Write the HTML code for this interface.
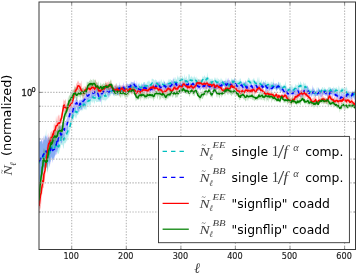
<!DOCTYPE html>
<html><head><meta charset="utf-8"><title>plot</title>
<style>
html,body{margin:0;padding:0;background:#fff;}
body{width:357px;height:274px;overflow:hidden;}
svg{display:block;filter:blur(0.35px);}
text{font-family:"DejaVu Sans","Liberation Sans",sans-serif;fill:#000;}
.t text{font-size:8.15px;fill:#1c1c1c;stroke:#1c1c1c;stroke-width:0.14px;}
text.s{font-size:12.35px;word-spacing:0.9px;}
text.m,text.mr{fill:#1a1a1a;fill-opacity:0.85;}
text.m{font-family:"Liberation Serif","DejaVu Serif",serif;font-style:italic;}
text.mr{font-family:"Liberation Serif","DejaVu Serif",serif;}
</style></head><body>
<svg width="357" height="274" viewBox="0 0 357 274">
<defs><clipPath id="ax"><rect x="39.0" y="2.0" width="316.5" height="247.5"/></clipPath></defs>
<rect width="357" height="274" fill="#fff"/>
<g clip-path="url(#ax)">
<polygon points="39.0,142.8 39.5,136.6 40.1,141.0 40.6,141.6 41.2,141.1 41.7,140.7 42.3,144.0 42.8,143.5 43.4,141.4 43.9,140.6 44.5,139.0 45.0,136.0 45.6,135.8 46.1,128.7 46.7,140.7 47.2,138.7 47.8,142.5 48.3,137.5 48.9,138.1 49.4,139.2 50.0,135.1 50.5,140.1 51.1,141.2 51.6,136.6 52.2,133.3 52.7,138.3 53.3,133.6 53.8,138.9 54.4,139.9 54.9,135.4 55.5,135.6 56.0,134.1 56.6,136.3 57.1,139.0 57.7,138.2 58.2,138.9 58.8,138.0 59.3,138.5 59.9,136.0 60.4,135.8 61.0,128.3 61.5,130.8 62.1,129.8 62.6,134.0 63.2,131.8 63.7,135.3 64.3,133.1 64.8,133.8 65.4,132.4 65.9,130.1 66.5,129.6 67.0,125.8 67.6,126.3 68.1,125.9 68.7,125.8 69.2,121.6 69.8,120.5 70.3,119.5 70.9,119.1 71.4,114.1 72.0,113.0 72.5,113.7 73.1,109.6 73.6,107.4 74.2,107.8 74.7,104.7 75.3,107.7 75.8,107.6 76.4,107.4 76.9,109.0 77.5,106.1 78.0,106.1 78.6,105.7 79.1,104.5 79.7,101.9 80.2,101.4 80.8,103.3 81.3,96.9 81.9,101.4 82.4,99.5 83.0,99.4 83.5,99.2 84.1,98.8 84.6,101.1 85.2,102.0 85.7,102.2 86.3,100.3 86.8,96.9 87.4,98.5 87.9,97.8 88.5,96.9 89.0,93.7 89.6,96.3 90.1,96.6 90.7,97.8 91.2,94.9 91.8,93.2 92.3,91.7 92.9,92.7 93.4,94.1 94.0,94.2 94.5,94.6 95.1,94.0 95.6,91.6 96.2,96.8 96.7,95.8 97.3,95.1 97.8,94.8 98.4,94.2 98.9,93.0 99.5,95.3 100.0,93.5 100.6,91.1 101.1,93.1 101.7,93.4 102.2,90.3 102.8,93.3 103.3,93.6 103.9,91.7 104.4,90.7 105.0,91.7 105.5,92.3 106.1,91.5 106.6,91.3 107.2,92.4 107.7,92.1 108.3,88.2 108.8,88.5 109.4,87.8 109.9,88.7 110.5,87.7 111.0,86.0 111.6,87.9 112.1,85.2 112.7,84.4 113.2,84.4 113.8,87.8 114.3,86.2 114.9,85.5 115.4,85.9 116.0,82.9 116.5,83.1 117.1,86.7 117.6,84.5 118.2,85.7 118.7,87.2 119.3,85.2 119.8,85.0 120.4,85.8 120.9,86.3 121.5,87.1 122.0,87.6 122.6,87.9 123.1,87.2 123.7,86.8 124.2,85.1 124.8,87.2 125.3,87.1 125.9,84.5 126.4,82.7 127.0,84.5 127.5,85.6 128.1,83.6 128.6,85.5 129.2,84.3 129.7,82.7 130.3,84.3 130.8,80.9 131.4,83.6 131.9,84.9 132.5,82.3 133.0,83.7 133.6,82.6 134.1,83.0 134.7,82.9 135.2,83.8 135.8,84.7 136.3,83.2 136.9,84.8 137.4,86.5 138.0,84.8 138.5,83.3 139.1,82.1 139.6,83.5 140.2,84.8 140.7,84.8 141.3,83.5 141.8,82.3 142.4,85.5 142.9,83.5 143.5,82.2 144.0,82.0 144.6,82.0 145.1,82.0 145.7,84.2 146.2,84.0 146.8,82.6 147.3,81.9 147.9,81.0 148.4,80.3 149.0,82.2 149.5,80.1 150.1,82.9 150.6,82.1 151.2,83.0 151.7,78.7 152.3,78.8 152.8,78.8 153.4,79.1 153.9,80.1 154.5,80.4 155.0,80.4 155.6,79.1 156.1,80.5 156.7,79.9 157.2,81.6 157.8,82.2 158.3,82.1 158.9,82.6 159.4,81.8 160.0,79.0 160.5,81.7 161.1,80.9 161.6,78.8 162.2,81.9 162.7,81.9 163.3,81.5 163.8,79.3 164.4,81.8 164.9,82.1 165.5,82.6 166.0,84.1 166.6,82.0 167.1,83.3 167.7,81.7 168.2,78.6 168.8,81.0 169.3,80.2 169.9,78.7 170.4,78.9 171.0,81.2 171.5,79.7 172.1,80.4 172.6,80.9 173.2,78.4 173.7,79.3 174.3,79.0 174.8,77.3 175.4,77.2 175.9,79.8 176.5,79.3 177.0,78.3 177.6,74.7 178.1,78.4 178.7,76.8 179.2,76.0 179.8,78.3 180.3,76.7 180.9,77.6 181.4,77.7 182.0,77.7 182.5,75.2 183.1,77.6 183.6,78.3 184.2,78.6 184.7,73.7 185.3,77.9 185.8,77.8 186.4,75.4 186.9,77.8 187.5,79.4 188.0,78.9 188.6,73.9 189.1,74.0 189.7,74.8 190.2,76.7 190.8,78.0 191.3,75.4 191.9,77.0 192.4,78.0 193.0,76.3 193.5,78.7 194.1,75.3 194.6,77.0 195.2,77.8 195.7,77.4 196.3,76.3 196.8,80.4 197.4,77.4 197.9,79.2 198.5,78.9 199.0,78.7 199.6,79.0 200.1,80.8 200.7,79.9 201.2,80.0 201.8,79.7 202.3,77.4 202.9,75.4 203.4,77.2 204.0,76.6 204.5,75.0 205.1,76.6 205.6,76.9 206.2,76.9 206.7,77.2 207.3,72.1 207.8,76.4 208.4,77.3 208.9,77.3 209.5,78.8 210.0,79.7 210.6,78.5 211.1,79.9 211.7,78.2 212.2,79.7 212.8,78.0 213.3,81.5 213.9,79.8 214.4,78.5 215.0,76.7 215.5,79.3 216.1,77.5 216.6,79.7 217.2,80.4 217.7,77.2 218.3,78.9 218.8,79.3 219.4,79.8 219.9,80.3 220.5,79.5 221.0,77.4 221.6,79.4 222.1,79.4 222.7,80.0 223.2,80.2 223.8,82.6 224.3,80.4 224.9,80.8 225.4,80.5 226.0,76.9 226.5,80.3 227.1,80.8 227.6,81.1 228.2,79.8 228.7,83.4 229.3,82.8 229.8,82.2 230.4,82.0 230.9,79.9 231.5,78.3 232.0,78.4 232.6,79.5 233.1,79.2 233.7,79.6 234.2,79.0 234.8,76.8 235.3,81.5 235.9,81.4 236.4,78.4 237.0,81.4 237.5,80.8 238.1,79.9 238.6,81.5 239.2,78.0 239.7,80.9 240.3,78.2 240.8,78.5 241.4,82.9 241.9,80.3 242.5,82.8 243.0,82.6 243.6,81.1 244.1,82.1 244.7,83.3 245.2,82.8 245.8,81.2 246.3,81.0 246.9,82.1 247.4,80.1 248.0,78.6 248.5,77.2 249.1,78.6 249.6,78.3 250.2,80.7 250.7,79.7 251.3,79.8 251.8,81.3 252.4,79.8 252.9,79.3 253.5,78.8 254.0,77.5 254.6,80.0 255.1,81.2 255.7,80.2 256.2,81.7 256.8,80.9 257.3,76.7 257.9,81.0 258.4,80.1 259.0,76.3 259.5,80.4 260.1,81.8 260.6,82.0 261.2,80.3 261.7,79.3 262.3,83.7 262.8,82.5 263.4,80.4 263.9,81.7 264.5,82.0 265.0,81.8 265.6,79.7 266.1,81.4 266.7,83.7 267.2,82.7 267.8,81.5 268.3,81.7 268.9,83.5 269.4,82.3 270.0,84.7 270.5,83.2 271.1,81.1 271.6,82.5 272.2,81.8 272.7,83.4 273.3,77.9 273.8,84.3 274.4,84.9 274.9,85.7 275.5,83.9 276.0,83.5 276.6,83.0 277.1,83.5 277.7,85.7 278.2,82.6 278.8,81.4 279.3,82.6 279.9,83.8 280.4,81.7 281.0,85.4 281.5,84.8 282.1,85.6 282.6,86.1 283.2,85.5 283.7,84.5 284.3,84.4 284.8,85.0 285.4,80.5 285.9,84.8 286.5,85.9 287.0,87.3 287.6,87.9 288.1,88.0 288.7,88.2 289.2,86.0 289.8,87.2 290.3,84.2 290.9,87.0 291.4,86.2 292.0,83.5 292.5,87.0 293.1,86.7 293.6,88.1 294.2,86.4 294.7,86.7 295.3,85.3 295.8,83.7 296.4,85.3 296.9,85.8 297.5,84.6 298.0,85.2 298.6,81.8 299.1,84.4 299.7,84.1 300.2,82.3 300.8,81.1 301.3,83.4 301.9,83.8 302.4,84.4 303.0,85.4 303.5,81.4 304.1,83.4 304.6,83.4 305.2,85.2 305.7,82.3 306.3,85.3 306.8,86.0 307.4,86.2 307.9,86.9 308.5,87.2 309.0,88.4 309.6,89.2 310.1,87.9 310.7,89.6 311.2,90.1 311.8,88.9 312.3,90.6 312.9,87.7 313.4,86.7 314.0,89.6 314.5,90.1 315.1,90.5 315.6,91.5 316.2,91.2 316.7,86.9 317.3,90.4 317.8,86.9 318.4,87.4 318.9,88.7 319.5,89.7 320.0,89.5 320.6,90.0 321.1,89.7 321.7,88.0 322.2,87.3 322.8,87.1 323.3,89.7 323.9,87.4 324.4,86.8 325.0,89.4 325.5,87.7 326.1,90.1 326.6,90.0 327.2,89.3 327.7,89.6 328.3,86.6 328.8,88.2 329.4,86.7 329.9,87.5 330.5,87.1 331.0,88.6 331.6,88.4 332.1,88.6 332.7,87.8 333.2,88.5 333.8,86.2 334.3,87.9 334.9,87.9 335.4,87.6 336.0,88.6 336.5,86.9 337.1,87.8 337.6,89.8 338.2,89.3 338.7,85.3 339.3,87.1 339.8,90.1 340.4,89.7 340.9,88.1 341.5,88.3 342.0,87.0 342.6,88.0 343.1,87.5 343.7,88.6 344.2,88.2 344.8,88.5 345.3,87.4 345.9,88.7 346.4,86.2 347.0,87.7 347.5,89.9 348.1,92.1 348.6,91.7 349.2,92.2 349.7,92.0 350.3,91.8 350.8,92.7 351.4,92.5 351.9,92.1 352.5,92.6 353.0,90.4 353.6,93.3 354.1,91.6 354.7,88.8 355.2,91.4 355.2,97.1 354.7,99.1 354.1,95.5 353.6,98.2 353.0,97.9 352.5,97.4 351.9,99.8 351.4,96.7 350.8,96.6 350.3,96.0 349.7,96.3 349.2,98.6 348.6,99.5 348.1,97.5 347.5,97.8 347.0,97.9 346.4,94.7 345.9,97.6 345.3,94.7 344.8,92.9 344.2,93.7 343.7,94.4 343.1,94.0 342.6,92.3 342.0,94.7 341.5,93.1 340.9,93.8 340.4,94.6 339.8,97.5 339.3,93.7 338.7,95.8 338.2,94.8 337.6,95.3 337.1,92.8 336.5,94.9 336.0,93.0 335.4,94.9 334.9,93.5 334.3,94.6 333.8,94.1 333.2,92.7 332.7,93.6 332.1,93.5 331.6,94.7 331.0,94.7 330.5,92.2 329.9,93.3 329.4,95.2 328.8,93.7 328.3,95.7 327.7,94.1 327.2,94.6 326.6,94.2 326.1,95.3 325.5,92.1 325.0,93.1 324.4,93.2 323.9,96.1 323.3,93.6 322.8,94.2 322.2,94.2 321.7,92.9 321.1,93.7 320.6,94.6 320.0,94.3 319.5,94.4 318.9,94.8 318.4,96.9 317.8,95.9 317.3,95.9 316.7,94.7 316.2,96.0 315.6,97.2 315.1,95.1 314.5,96.4 314.0,95.2 313.4,97.0 312.9,96.9 312.3,94.1 311.8,94.6 311.2,95.0 310.7,93.3 310.1,93.9 309.6,96.8 309.0,92.6 308.5,93.6 307.9,92.1 307.4,96.7 306.8,91.2 306.3,94.0 305.7,88.8 305.2,90.4 304.6,90.1 304.1,91.1 303.5,91.7 303.0,89.1 302.4,90.8 301.9,91.3 301.3,89.9 300.8,87.9 300.2,88.2 299.7,87.9 299.1,90.9 298.6,92.9 298.0,88.9 297.5,90.4 296.9,92.3 296.4,89.3 295.8,90.5 295.3,93.2 294.7,92.6 294.2,91.4 293.6,92.9 293.1,94.7 292.5,92.1 292.0,92.7 291.4,91.1 290.9,94.8 290.3,92.7 289.8,93.6 289.2,91.7 288.7,93.5 288.1,94.1 287.6,93.8 287.0,91.7 286.5,90.6 285.9,91.7 285.4,91.8 284.8,88.5 284.3,90.3 283.7,88.7 283.2,91.9 282.6,90.6 282.1,89.5 281.5,89.6 281.0,89.7 280.4,92.0 279.9,88.5 279.3,91.4 278.8,88.6 278.2,88.9 277.7,89.6 277.1,89.9 276.6,92.1 276.0,88.2 275.5,90.5 274.9,89.0 274.4,89.3 273.8,88.7 273.3,90.0 272.7,89.3 272.2,88.7 271.6,89.3 271.1,88.1 270.5,87.9 270.0,90.7 269.4,91.4 268.9,88.2 268.3,89.0 267.8,86.9 267.2,88.3 266.7,87.8 266.1,93.2 265.6,87.3 265.0,88.2 264.5,87.9 263.9,87.0 263.4,87.9 262.8,87.8 262.3,89.2 261.7,89.6 261.2,87.0 260.6,87.7 260.1,85.3 259.5,84.5 259.0,86.6 258.4,84.8 257.9,85.1 257.3,85.9 256.8,87.3 256.2,89.1 255.7,85.2 255.1,84.6 254.6,86.0 254.0,85.5 253.5,84.6 252.9,83.5 252.4,84.1 251.8,84.9 251.3,86.9 250.7,86.0 250.2,86.0 249.6,83.4 249.1,83.9 248.5,82.9 248.0,84.5 247.4,88.5 246.9,87.3 246.3,86.9 245.8,87.2 245.2,91.8 244.7,87.4 244.1,86.6 243.6,88.4 243.0,88.3 242.5,87.4 241.9,87.3 241.4,86.6 240.8,84.3 240.3,86.0 239.7,84.9 239.2,85.0 238.6,87.1 238.1,87.1 237.5,87.0 237.0,85.4 236.4,86.8 235.9,86.5 235.3,87.3 234.8,85.3 234.2,83.7 233.7,83.5 233.1,84.6 232.6,86.1 232.0,83.1 231.5,88.5 230.9,86.1 230.4,90.5 229.8,90.8 229.3,90.2 228.7,87.6 228.2,86.5 227.6,85.8 227.1,86.9 226.5,86.8 226.0,85.4 225.4,88.2 224.9,85.9 224.3,86.1 223.8,86.3 223.2,86.0 222.7,85.0 222.1,84.9 221.6,85.5 221.0,84.6 220.5,87.4 219.9,85.4 219.4,84.5 218.8,85.7 218.3,84.7 217.7,89.8 217.2,85.5 216.6,84.7 216.1,83.6 215.5,82.7 215.0,82.9 214.4,85.4 213.9,85.2 213.3,85.0 212.8,87.2 212.2,84.6 211.7,85.0 211.1,84.4 210.6,85.7 210.0,83.9 209.5,85.6 208.9,84.0 208.4,83.1 207.8,82.0 207.3,82.1 206.7,83.6 206.2,82.5 205.6,83.5 205.1,85.8 204.5,84.9 204.0,82.1 203.4,83.5 202.9,82.9 202.3,81.8 201.8,83.6 201.2,84.5 200.7,84.2 200.1,86.5 199.6,86.4 199.0,86.0 198.5,86.3 197.9,85.0 197.4,85.2 196.8,84.1 196.3,85.1 195.7,82.7 195.2,82.4 194.6,86.8 194.1,84.9 193.5,85.5 193.0,83.0 192.4,85.2 191.9,85.3 191.3,82.6 190.8,84.9 190.2,84.7 189.7,81.4 189.1,85.4 188.6,85.4 188.0,84.4 187.5,84.1 186.9,83.8 186.4,84.0 185.8,84.4 185.3,82.4 184.7,81.2 184.2,82.4 183.6,82.7 183.1,85.6 182.5,83.8 182.0,81.9 181.4,81.3 180.9,83.4 180.3,84.8 179.8,82.4 179.2,84.0 178.7,83.9 178.1,84.1 177.6,83.3 177.0,85.4 176.5,85.1 175.9,85.1 175.4,87.2 174.8,85.6 174.3,86.2 173.7,87.1 173.2,86.9 172.6,87.8 172.1,85.1 171.5,84.6 171.0,90.1 170.4,86.5 169.9,86.6 169.3,87.5 168.8,88.2 168.2,87.7 167.7,87.3 167.1,88.6 166.6,89.2 166.0,88.4 165.5,90.1 164.9,89.1 164.4,87.1 163.8,88.5 163.3,86.6 162.7,87.2 162.2,87.2 161.6,85.9 161.1,87.3 160.5,85.9 160.0,85.7 159.4,86.6 158.9,86.7 158.3,87.6 157.8,86.4 157.2,87.8 156.7,85.6 156.1,86.2 155.6,86.1 155.0,85.4 154.5,86.8 153.9,85.9 153.4,86.4 152.8,86.2 152.3,89.4 151.7,87.8 151.2,89.0 150.6,87.5 150.1,87.9 149.5,87.9 149.0,88.7 148.4,85.9 147.9,87.6 147.3,88.7 146.8,88.7 146.2,88.9 145.7,89.9 145.1,89.6 144.6,88.8 144.0,89.0 143.5,88.7 142.9,88.3 142.4,95.0 141.8,90.7 141.3,90.8 140.7,90.9 140.2,89.8 139.6,89.5 139.1,88.8 138.5,89.5 138.0,95.3 137.4,91.0 136.9,90.8 136.3,90.2 135.8,92.2 135.2,90.5 134.7,92.2 134.1,90.5 133.6,89.6 133.0,92.2 132.5,90.8 131.9,90.5 131.4,90.7 130.8,88.8 130.3,90.1 129.7,90.6 129.2,91.5 128.6,92.6 128.1,92.1 127.5,90.4 127.0,93.5 126.4,90.2 125.9,90.9 125.3,91.6 124.8,92.4 124.2,92.7 123.7,92.2 123.1,96.3 122.6,93.1 122.0,93.6 121.5,95.1 120.9,91.2 120.4,90.6 119.8,93.6 119.3,92.2 118.7,96.0 118.2,95.8 117.6,94.3 117.1,92.5 116.5,92.1 116.0,92.1 115.4,95.2 114.9,92.6 114.3,96.9 113.8,95.9 113.2,92.7 112.7,94.6 112.1,93.5 111.6,94.4 111.0,94.3 110.5,96.6 109.9,95.3 109.4,95.1 108.8,96.9 108.3,98.1 107.7,99.4 107.2,97.9 106.6,99.8 106.1,100.5 105.5,100.3 105.0,101.9 104.4,99.6 103.9,100.4 103.3,100.0 102.8,99.6 102.2,99.9 101.7,106.5 101.1,100.2 100.6,100.6 100.0,100.0 99.5,102.5 98.9,101.2 98.4,102.1 97.8,102.1 97.3,101.7 96.7,102.0 96.2,102.4 95.6,100.4 95.1,101.0 94.5,104.0 94.0,103.1 93.4,100.5 92.9,103.2 92.3,101.4 91.8,100.9 91.2,102.2 90.7,104.9 90.1,105.3 89.6,108.1 89.0,103.7 88.5,104.8 87.9,107.4 87.4,104.9 86.8,106.6 86.3,110.4 85.7,108.2 85.2,110.2 84.6,109.3 84.1,109.1 83.5,107.8 83.0,111.1 82.4,109.3 81.9,111.7 81.3,109.5 80.8,110.2 80.2,110.2 79.7,111.0 79.1,112.4 78.6,114.0 78.0,115.0 77.5,114.8 76.9,115.8 76.4,118.3 75.8,118.8 75.3,117.3 74.7,115.5 74.2,117.5 73.6,120.2 73.1,120.1 72.5,121.8 72.0,124.4 71.4,125.8 70.9,127.1 70.3,129.6 69.8,132.4 69.2,134.2 68.7,135.6 68.1,138.2 67.6,137.1 67.0,142.0 66.5,140.2 65.9,142.3 65.4,143.5 64.8,142.9 64.3,143.4 63.7,147.5 63.2,149.0 62.6,144.2 62.1,145.1 61.5,144.4 61.0,145.2 60.4,147.9 59.9,149.0 59.3,151.7 58.8,154.1 58.2,153.5 57.7,152.3 57.1,154.6 56.6,151.5 56.0,152.1 55.5,151.6 54.9,158.0 54.4,154.8 53.8,158.2 53.3,160.4 52.7,157.4 52.2,161.2 51.6,157.2 51.1,158.0 50.5,162.3 50.0,161.2 49.4,168.0 48.9,164.1 48.3,169.2 47.8,170.5 47.2,171.8 46.7,167.1 46.1,163.1 45.6,165.1 45.0,166.4 44.5,167.1 43.9,168.8 43.4,171.7 42.8,171.9 42.3,175.3 41.7,172.8 41.2,172.6 40.6,172.9 40.1,188.7 39.5,184.4 39.0,181.9" fill="#00bfbf" fill-opacity="0.27"/>
<polygon points="39.0,136.8 39.5,140.9 40.1,141.9 40.6,141.3 41.2,140.5 41.7,137.4 42.3,142.3 42.8,140.5 43.4,135.3 43.9,140.3 44.5,139.1 45.0,134.2 45.6,136.8 46.1,138.3 46.7,135.6 47.2,139.1 47.8,134.0 48.3,137.7 48.9,137.0 49.4,139.3 50.0,140.5 50.5,139.3 51.1,137.9 51.6,139.7 52.2,139.6 52.7,137.3 53.3,135.2 53.8,140.4 54.4,138.8 54.9,137.0 55.5,131.9 56.0,138.6 56.6,135.6 57.1,129.3 57.7,128.5 58.2,131.9 58.8,127.7 59.3,125.8 59.9,127.0 60.4,125.0 61.0,128.4 61.5,124.5 62.1,125.4 62.6,120.7 63.2,125.3 63.7,121.4 64.3,122.4 64.8,122.4 65.4,122.5 65.9,121.6 66.5,119.4 67.0,118.6 67.6,115.6 68.1,114.1 68.7,110.3 69.2,108.9 69.8,108.5 70.3,107.7 70.9,103.2 71.4,106.0 72.0,105.3 72.5,107.4 73.1,106.1 73.6,99.0 74.2,103.3 74.7,99.6 75.3,100.4 75.8,99.3 76.4,96.1 76.9,99.6 77.5,100.3 78.0,100.5 78.6,103.0 79.1,100.7 79.7,99.7 80.2,99.7 80.8,99.6 81.3,99.9 81.9,100.0 82.4,98.5 83.0,98.4 83.5,97.6 84.1,97.2 84.6,95.3 85.2,95.9 85.7,93.0 86.3,89.5 86.8,89.4 87.4,92.2 87.9,92.4 88.5,91.0 89.0,91.2 89.6,91.4 90.1,90.4 90.7,91.0 91.2,90.0 91.8,91.6 92.3,87.3 92.9,88.5 93.4,90.0 94.0,89.8 94.5,86.5 95.1,89.5 95.6,90.0 96.2,88.1 96.7,88.4 97.3,84.2 97.8,90.9 98.4,88.9 98.9,93.6 99.5,93.4 100.0,92.4 100.6,92.4 101.1,92.1 101.7,86.8 102.2,90.5 102.8,88.7 103.3,87.3 103.9,88.4 104.4,87.2 105.0,85.9 105.5,87.6 106.1,87.3 106.6,86.5 107.2,85.0 107.7,89.8 108.3,88.1 108.8,87.2 109.4,88.9 109.9,87.8 110.5,87.3 111.0,85.6 111.6,86.4 112.1,85.7 112.7,88.2 113.2,87.4 113.8,87.7 114.3,88.2 114.9,87.9 115.4,85.4 116.0,86.6 116.5,87.1 117.1,86.5 117.6,87.8 118.2,85.3 118.7,85.6 119.3,85.4 119.8,81.8 120.4,87.6 120.9,87.8 121.5,86.4 122.0,84.5 122.6,86.0 123.1,85.4 123.7,81.7 124.2,85.6 124.8,86.6 125.3,86.8 125.9,86.6 126.4,82.9 127.0,82.8 127.5,84.0 128.1,84.3 128.6,84.3 129.2,84.0 129.7,83.9 130.3,83.9 130.8,83.1 131.4,82.1 131.9,81.4 132.5,82.5 133.0,81.9 133.6,82.7 134.1,80.0 134.7,81.7 135.2,83.4 135.8,82.9 136.3,85.2 136.9,80.2 137.4,85.0 138.0,87.3 138.5,83.8 139.1,85.2 139.6,87.3 140.2,87.1 140.7,87.5 141.3,83.9 141.8,85.6 142.4,84.6 142.9,83.8 143.5,84.9 144.0,82.0 144.6,84.6 145.1,84.4 145.7,84.5 146.2,84.1 146.8,86.9 147.3,85.3 147.9,85.9 148.4,84.7 149.0,86.5 149.5,86.7 150.1,86.3 150.6,86.3 151.2,82.3 151.7,86.7 152.3,84.6 152.8,85.6 153.4,82.6 153.9,85.4 154.5,86.2 155.0,81.3 155.6,83.9 156.1,83.9 156.7,82.6 157.2,82.0 157.8,81.7 158.3,80.4 158.9,82.9 159.4,81.2 160.0,83.0 160.5,84.3 161.1,84.7 161.6,85.9 162.2,85.2 162.7,85.4 163.3,85.8 163.8,83.1 164.4,81.2 164.9,81.7 165.5,85.4 166.0,83.0 166.6,84.3 167.1,83.1 167.7,82.6 168.2,82.6 168.8,84.4 169.3,83.9 169.9,83.6 170.4,83.1 171.0,83.4 171.5,79.8 172.1,81.9 172.6,81.0 173.2,77.1 173.7,81.2 174.3,81.7 174.8,81.4 175.4,81.5 175.9,81.0 176.5,80.3 177.0,83.9 177.6,82.0 178.1,83.8 178.7,83.4 179.2,81.6 179.8,83.5 180.3,82.3 180.9,82.8 181.4,82.5 182.0,83.2 182.5,82.1 183.1,82.4 183.6,82.9 184.2,83.1 184.7,78.8 185.3,79.8 185.8,83.9 186.4,82.2 186.9,81.8 187.5,83.4 188.0,81.3 188.6,79.7 189.1,82.0 189.7,83.2 190.2,83.7 190.8,82.1 191.3,83.2 191.9,83.0 192.4,82.2 193.0,81.7 193.5,82.1 194.1,82.8 194.6,84.0 195.2,81.3 195.7,81.8 196.3,84.0 196.8,81.7 197.4,83.1 197.9,83.2 198.5,82.2 199.0,82.7 199.6,84.4 200.1,82.5 200.7,84.7 201.2,82.6 201.8,82.9 202.3,83.1 202.9,83.4 203.4,82.3 204.0,83.6 204.5,80.7 205.1,83.8 205.6,84.0 206.2,83.0 206.7,81.8 207.3,83.9 207.8,83.2 208.4,82.8 208.9,82.6 209.5,82.5 210.0,84.8 210.6,84.1 211.1,85.2 211.7,83.1 212.2,83.4 212.8,84.6 213.3,84.2 213.9,82.6 214.4,84.3 215.0,85.8 215.5,83.0 216.1,83.8 216.6,82.9 217.2,81.8 217.7,83.3 218.3,81.7 218.8,83.6 219.4,82.9 219.9,83.1 220.5,82.5 221.0,81.2 221.6,82.8 222.1,81.1 222.7,81.8 223.2,81.2 223.8,80.9 224.3,81.1 224.9,80.9 225.4,80.6 226.0,82.2 226.5,82.1 227.1,80.6 227.6,79.2 228.2,77.5 228.7,79.9 229.3,79.7 229.8,80.3 230.4,81.3 230.9,82.1 231.5,84.1 232.0,81.4 232.6,79.5 233.1,81.0 233.7,80.3 234.2,80.6 234.8,77.8 235.3,79.0 235.9,82.2 236.4,82.7 237.0,83.6 237.5,84.5 238.1,85.6 238.6,85.3 239.2,83.4 239.7,84.1 240.3,84.8 240.8,81.3 241.4,81.5 241.9,82.2 242.5,83.5 243.0,85.3 243.6,84.3 244.1,81.9 244.7,82.7 245.2,81.7 245.8,79.8 246.3,82.6 246.9,85.1 247.4,84.2 248.0,83.2 248.5,84.5 249.1,84.0 249.6,85.6 250.2,82.7 250.7,85.3 251.3,83.3 251.8,83.1 252.4,85.1 252.9,85.7 253.5,85.3 254.0,82.4 254.6,85.3 255.1,81.8 255.7,83.4 256.2,81.5 256.8,84.1 257.3,86.1 257.9,83.9 258.4,85.6 259.0,84.3 259.5,84.4 260.1,84.8 260.6,84.6 261.2,84.9 261.7,83.5 262.3,84.1 262.8,82.4 263.4,82.6 263.9,82.1 264.5,82.9 265.0,83.2 265.6,83.0 266.1,84.6 266.7,85.6 267.2,86.6 267.8,84.7 268.3,85.3 268.9,83.2 269.4,86.1 270.0,83.6 270.5,84.9 271.1,86.5 271.6,83.7 272.2,85.6 272.7,84.5 273.3,82.8 273.8,82.4 274.4,84.1 274.9,83.2 275.5,84.3 276.0,82.6 276.6,85.2 277.1,84.5 277.7,84.4 278.2,81.6 278.8,83.9 279.3,84.8 279.9,84.7 280.4,86.9 281.0,85.9 281.5,86.8 282.1,86.9 282.6,86.6 283.2,88.2 283.7,89.6 284.3,89.9 284.8,88.3 285.4,87.5 285.9,86.8 286.5,89.1 287.0,91.0 287.6,89.4 288.1,91.9 288.7,90.7 289.2,88.4 289.8,87.1 290.3,87.9 290.9,89.3 291.4,90.7 292.0,90.5 292.5,89.1 293.1,91.1 293.6,88.1 294.2,89.7 294.7,88.6 295.3,89.7 295.8,90.0 296.4,87.7 296.9,88.7 297.5,89.5 298.0,86.9 298.6,85.7 299.1,90.6 299.7,89.0 300.2,91.3 300.8,90.6 301.3,90.0 301.9,90.3 302.4,89.1 303.0,91.2 303.5,90.8 304.1,85.9 304.6,87.7 305.2,88.9 305.7,89.0 306.3,90.2 306.8,86.9 307.4,85.2 307.9,86.3 308.5,88.8 309.0,90.1 309.6,90.8 310.1,91.8 310.7,91.3 311.2,91.2 311.8,89.8 312.3,84.8 312.9,89.7 313.4,87.9 314.0,90.6 314.5,88.0 315.1,91.9 315.6,91.4 316.2,90.1 316.7,90.9 317.3,91.2 317.8,90.2 318.4,88.9 318.9,87.6 319.5,90.1 320.0,88.9 320.6,90.7 321.1,88.7 321.7,91.4 322.2,89.8 322.8,90.2 323.3,90.3 323.9,90.0 324.4,90.7 325.0,90.1 325.5,90.4 326.1,92.0 326.6,89.5 327.2,88.6 327.7,90.9 328.3,92.1 328.8,91.1 329.4,90.8 329.9,89.4 330.5,88.2 331.0,88.8 331.6,90.0 332.1,90.5 332.7,88.1 333.2,89.0 333.8,90.7 334.3,91.0 334.9,92.3 335.4,92.8 336.0,93.1 336.5,90.3 337.1,93.6 337.6,90.0 338.2,95.0 338.7,94.6 339.3,94.8 339.8,90.5 340.4,96.5 340.9,94.4 341.5,91.7 342.0,95.0 342.6,92.4 343.1,95.3 343.7,92.5 344.2,94.5 344.8,93.5 345.3,94.3 345.9,94.0 346.4,93.9 347.0,90.7 347.5,92.4 348.1,93.0 348.6,90.8 349.2,90.3 349.7,93.9 350.3,94.8 350.8,94.1 351.4,92.5 351.9,92.4 352.5,90.4 353.0,92.3 353.6,92.6 354.1,93.0 354.7,90.4 355.2,93.1 355.2,99.9 354.7,99.3 354.1,100.9 353.6,97.6 353.0,96.4 352.5,96.1 351.9,99.9 351.4,99.0 350.8,97.9 350.3,100.4 349.7,97.7 349.2,98.1 348.6,95.8 348.1,98.6 347.5,98.5 347.0,97.5 346.4,100.4 345.9,100.2 345.3,99.0 344.8,101.1 344.2,99.5 343.7,98.8 343.1,99.4 342.6,99.2 342.0,99.2 341.5,99.4 340.9,101.9 340.4,100.3 339.8,99.6 339.3,100.4 338.7,102.6 338.2,98.8 337.6,98.3 337.1,98.1 336.5,98.4 336.0,97.0 335.4,97.7 334.9,95.8 334.3,96.8 333.8,95.2 333.2,95.7 332.7,99.9 332.1,94.5 331.6,93.9 331.0,95.7 330.5,96.3 329.9,94.7 329.4,97.8 328.8,95.4 328.3,96.8 327.7,97.0 327.2,96.2 326.6,95.7 326.1,95.2 325.5,95.8 325.0,95.8 324.4,94.8 323.9,93.7 323.3,95.2 322.8,95.6 322.2,95.8 321.7,96.9 321.1,96.9 320.6,97.2 320.0,96.3 319.5,96.1 318.9,94.3 318.4,94.8 317.8,95.8 317.3,95.7 316.7,96.0 316.2,95.7 315.6,97.1 315.1,95.8 314.5,95.8 314.0,94.6 313.4,93.5 312.9,94.0 312.3,95.6 311.8,96.1 311.2,97.6 310.7,94.7 310.1,96.3 309.6,96.3 309.0,95.8 308.5,93.3 307.9,93.9 307.4,92.4 306.8,94.9 306.3,94.7 305.7,96.0 305.2,95.7 304.6,93.7 304.1,94.3 303.5,95.8 303.0,97.1 302.4,96.1 301.9,96.8 301.3,97.9 300.8,96.9 300.2,96.8 299.7,96.4 299.1,97.1 298.6,98.5 298.0,92.8 297.5,94.8 296.9,96.1 296.4,95.7 295.8,94.4 295.3,95.9 294.7,94.7 294.2,95.3 293.6,95.6 293.1,98.0 292.5,95.1 292.0,95.4 291.4,95.2 290.9,95.5 290.3,94.9 289.8,95.7 289.2,95.7 288.7,96.9 288.1,97.9 287.6,96.8 287.0,98.0 286.5,95.5 285.9,92.1 285.4,92.6 284.8,93.7 284.3,93.5 283.7,93.1 283.2,95.8 282.6,92.6 282.1,91.7 281.5,91.1 281.0,92.6 280.4,93.1 279.9,90.5 279.3,90.0 278.8,88.1 278.2,89.3 277.7,89.3 277.1,89.6 276.6,91.5 276.0,89.4 275.5,88.6 274.9,87.6 274.4,89.6 273.8,88.6 273.3,88.8 272.7,90.1 272.2,90.5 271.6,92.0 271.1,90.4 270.5,89.8 270.0,92.1 269.4,90.3 268.9,89.8 268.3,91.3 267.8,90.8 267.2,92.0 266.7,90.2 266.1,93.1 265.6,91.9 265.0,88.0 264.5,87.2 263.9,87.6 263.4,88.5 262.8,92.4 262.3,88.0 261.7,88.0 261.2,89.6 260.6,94.8 260.1,89.6 259.5,91.8 259.0,89.4 258.4,91.7 257.9,90.8 257.3,92.0 256.8,88.5 256.2,90.1 255.7,90.9 255.1,87.6 254.6,89.5 254.0,89.8 253.5,91.4 252.9,89.7 252.4,91.6 251.8,91.0 251.3,88.6 250.7,88.5 250.2,92.4 249.6,93.4 249.1,89.3 248.5,89.8 248.0,89.9 247.4,90.0 246.9,89.8 246.3,89.0 245.8,88.4 245.2,88.4 244.7,87.3 244.1,91.7 243.6,90.8 243.0,89.5 242.5,93.3 241.9,89.7 241.4,87.1 240.8,87.6 240.3,90.5 239.7,90.8 239.2,89.0 238.6,90.2 238.1,89.5 237.5,88.3 237.0,89.3 236.4,88.4 235.9,86.4 235.3,87.8 234.8,87.3 234.2,86.0 233.7,86.5 233.1,87.1 232.6,88.6 232.0,88.8 231.5,88.3 230.9,87.8 230.4,88.6 229.8,87.5 229.3,83.8 228.7,85.4 228.2,88.1 227.6,84.7 227.1,87.8 226.5,88.2 226.0,86.7 225.4,86.7 224.9,87.4 224.3,86.9 223.8,85.7 223.2,85.9 222.7,87.2 222.1,88.3 221.6,88.3 221.0,88.4 220.5,92.0 219.9,87.3 219.4,88.1 218.8,87.6 218.3,89.7 217.7,88.8 217.2,89.8 216.6,89.3 216.1,89.5 215.5,88.4 215.0,93.3 214.4,89.7 213.9,89.8 213.3,87.9 212.8,89.7 212.2,89.3 211.7,89.8 211.1,90.0 210.6,91.5 210.0,90.0 209.5,88.3 208.9,88.4 208.4,87.9 207.8,88.5 207.3,89.0 206.7,88.4 206.2,89.0 205.6,88.9 205.1,88.0 204.5,89.0 204.0,88.4 203.4,89.6 202.9,89.9 202.3,87.3 201.8,88.8 201.2,88.6 200.7,90.0 200.1,90.9 199.6,89.3 199.0,89.8 198.5,88.8 197.9,89.6 197.4,91.4 196.8,87.1 196.3,87.6 195.7,88.7 195.2,88.3 194.6,88.5 194.1,87.8 193.5,91.2 193.0,87.1 192.4,90.4 191.9,88.6 191.3,89.2 190.8,88.4 190.2,89.7 189.7,87.2 189.1,86.5 188.6,85.8 188.0,86.7 187.5,87.1 186.9,89.9 186.4,86.9 185.8,89.0 185.3,87.2 184.7,87.4 184.2,88.2 183.6,87.6 183.1,87.5 182.5,87.3 182.0,87.0 181.4,90.5 180.9,88.8 180.3,89.1 179.8,88.2 179.2,88.3 178.7,89.1 178.1,91.2 177.6,89.0 177.0,89.0 176.5,87.5 175.9,90.1 175.4,86.7 174.8,87.2 174.3,89.1 173.7,85.9 173.2,87.1 172.6,87.1 172.1,88.5 171.5,88.4 171.0,90.8 170.4,88.7 169.9,88.1 169.3,91.9 168.8,90.8 168.2,87.9 167.7,90.1 167.1,88.2 166.6,91.8 166.0,89.1 165.5,90.1 164.9,89.2 164.4,90.8 163.8,90.4 163.3,89.8 162.7,93.0 162.2,93.0 161.6,90.7 161.1,89.8 160.5,91.9 160.0,90.3 159.4,88.9 158.9,88.2 158.3,88.1 157.8,87.1 157.2,87.5 156.7,89.6 156.1,88.6 155.6,89.2 155.0,90.2 154.5,92.2 153.9,91.3 153.4,92.0 152.8,92.1 152.3,91.6 151.7,92.5 151.2,91.0 150.6,93.2 150.1,91.7 149.5,93.6 149.0,91.1 148.4,91.2 147.9,92.8 147.3,91.4 146.8,91.9 146.2,94.0 145.7,89.9 145.1,93.5 144.6,91.3 144.0,89.9 143.5,92.0 142.9,90.0 142.4,93.3 141.8,89.8 141.3,91.2 140.7,92.1 140.2,94.3 139.6,92.7 139.1,91.6 138.5,91.6 138.0,94.4 137.4,92.5 136.9,92.2 136.3,93.4 135.8,88.6 135.2,91.0 134.7,90.1 134.1,87.8 133.6,88.2 133.0,88.8 132.5,87.2 131.9,87.4 131.4,88.5 130.8,89.2 130.3,89.7 129.7,92.6 129.2,90.2 128.6,89.9 128.1,92.8 127.5,91.3 127.0,91.4 126.4,91.3 125.9,92.3 125.3,92.7 124.8,90.9 124.2,91.7 123.7,89.4 123.1,90.4 122.6,93.7 122.0,95.6 121.5,91.9 120.9,93.6 120.4,93.8 119.8,94.3 119.3,90.7 118.7,90.7 118.2,95.3 117.6,94.9 117.1,95.1 116.5,92.9 116.0,93.3 115.4,93.4 114.9,92.9 114.3,95.6 113.8,93.8 113.2,96.4 112.7,93.0 112.1,93.8 111.6,93.2 111.0,93.1 110.5,93.7 109.9,93.8 109.4,96.9 108.8,97.7 108.3,94.9 107.7,96.0 107.2,93.6 106.6,93.0 106.1,92.7 105.5,94.9 105.0,94.2 104.4,92.7 103.9,95.1 103.3,94.1 102.8,95.6 102.2,98.0 101.7,96.2 101.1,100.6 100.6,101.9 100.0,101.7 99.5,100.6 98.9,99.4 98.4,100.5 97.8,98.4 97.3,95.2 96.7,94.6 96.2,97.9 95.6,98.0 95.1,95.6 94.5,96.4 94.0,96.3 93.4,97.1 92.9,97.9 92.3,98.8 91.8,99.3 91.2,98.0 90.7,97.7 90.1,100.5 89.6,98.2 89.0,98.3 88.5,99.7 87.9,100.4 87.4,100.2 86.8,99.2 86.3,104.6 85.7,102.3 85.2,108.1 84.6,102.1 84.1,108.2 83.5,106.5 83.0,106.1 82.4,107.6 81.9,110.3 81.3,108.8 80.8,111.0 80.2,106.7 79.7,107.5 79.1,112.0 78.6,111.8 78.0,111.8 77.5,110.2 76.9,107.8 76.4,107.3 75.8,109.6 75.3,111.4 74.7,113.3 74.2,111.6 73.6,114.6 73.1,114.3 72.5,116.2 72.0,121.1 71.4,120.3 70.9,117.0 70.3,117.7 69.8,119.7 69.2,121.1 68.7,121.7 68.1,125.5 67.6,133.4 67.0,129.3 66.5,131.1 65.9,132.7 65.4,134.0 64.8,133.6 64.3,139.4 63.7,135.9 63.2,139.2 62.6,138.3 62.1,142.6 61.5,142.8 61.0,143.9 60.4,139.9 59.9,141.7 59.3,140.9 58.8,147.3 58.2,148.6 57.7,152.2 57.1,148.4 56.6,154.9 56.0,154.0 55.5,155.1 54.9,156.1 54.4,158.1 53.8,159.8 53.3,158.1 52.7,163.2 52.2,158.9 51.6,158.5 51.1,156.3 50.5,164.9 50.0,160.8 49.4,167.7 48.9,161.6 48.3,163.1 47.8,164.5 47.2,169.3 46.7,165.2 46.1,163.7 45.6,165.0 45.0,165.2 44.5,167.1 43.9,167.8 43.4,171.0 42.8,172.5 42.3,174.4 41.7,173.1 41.2,178.3 40.6,182.0 40.1,178.1 39.5,181.9 39.0,180.3" fill="#0000ff" fill-opacity="0.27"/>
<polygon points="39.0,193.5 39.5,196.8 40.1,189.9 40.6,186.0 41.2,185.8 41.7,181.3 42.3,165.8 42.8,168.3 43.4,176.4 43.9,164.2 44.5,166.8 45.0,163.0 45.6,154.7 46.1,155.5 46.7,146.8 47.2,147.1 47.8,138.4 48.3,138.1 48.9,132.6 49.4,138.6 50.0,136.2 50.5,132.1 51.1,131.8 51.6,131.1 52.2,132.0 52.7,130.0 53.3,130.9 53.8,123.4 54.4,123.2 54.9,125.4 55.5,124.6 56.0,115.8 56.6,119.6 57.1,121.6 57.7,116.8 58.2,114.3 58.8,116.6 59.3,114.5 59.9,119.0 60.4,117.2 61.0,113.7 61.5,113.3 62.1,110.3 62.6,105.9 63.2,102.2 63.7,98.9 64.3,101.0 64.8,100.5 65.4,98.7 65.9,101.1 66.5,105.1 67.0,104.0 67.6,102.9 68.1,101.6 68.7,100.6 69.2,101.2 69.8,101.3 70.3,100.8 70.9,99.4 71.4,97.2 72.0,99.4 72.5,98.4 73.1,91.6 73.6,89.1 74.2,89.6 74.7,87.0 75.3,86.9 75.8,86.2 76.4,83.1 76.9,83.8 77.5,80.3 78.0,82.6 78.6,80.2 79.1,82.8 79.7,83.2 80.2,83.8 80.8,83.1 81.3,80.3 81.9,85.7 82.4,87.9 83.0,88.5 83.5,88.9 84.1,90.6 84.6,85.7 85.2,87.0 85.7,85.6 86.3,86.9 86.8,85.3 87.4,85.2 87.9,84.6 88.5,83.4 89.0,85.4 89.6,83.3 90.1,86.0 90.7,85.5 91.2,83.3 91.8,85.1 92.3,85.0 92.9,85.1 93.4,82.4 94.0,83.9 94.5,83.3 95.1,84.3 95.6,78.8 96.2,81.8 96.7,82.8 97.3,84.1 97.8,85.2 98.4,85.1 98.9,86.8 99.5,87.0 100.0,87.8 100.6,88.4 101.1,87.9 101.7,85.2 102.2,84.5 102.8,85.0 103.3,86.2 103.9,86.1 104.4,85.5 105.0,85.2 105.5,81.2 106.1,81.6 106.6,83.0 107.2,82.5 107.7,82.0 108.3,83.0 108.8,80.0 109.4,83.1 109.9,83.4 110.5,83.0 111.0,79.3 111.6,84.7 112.1,83.5 112.7,84.8 113.2,86.5 113.8,87.1 114.3,84.5 114.9,86.5 115.4,83.6 116.0,87.0 116.5,83.2 117.1,85.3 117.6,86.4 118.2,86.8 118.7,88.6 119.3,89.0 119.8,87.8 120.4,86.0 120.9,84.6 121.5,86.2 122.0,86.9 122.6,85.5 123.1,84.3 123.7,88.2 124.2,85.3 124.8,87.4 125.3,89.2 125.9,84.3 126.4,84.0 127.0,84.9 127.5,88.7 128.1,88.1 128.6,88.0 129.2,84.3 129.7,85.4 130.3,83.8 130.8,85.0 131.4,86.1 131.9,86.8 132.5,86.7 133.0,85.7 133.6,87.8 134.1,86.4 134.7,87.5 135.2,88.5 135.8,90.4 136.3,90.2 136.9,90.2 137.4,89.5 138.0,87.7 138.5,88.4 139.1,87.1 139.6,89.3 140.2,90.2 140.7,90.0 141.3,88.2 141.8,88.6 142.4,88.3 142.9,84.7 143.5,87.9 144.0,87.7 144.6,87.8 145.1,87.8 145.7,86.7 146.2,86.7 146.8,86.6 147.3,87.4 147.9,88.9 148.4,85.0 149.0,86.5 149.5,87.1 150.1,86.4 150.6,84.9 151.2,85.2 151.7,85.5 152.3,85.1 152.8,85.2 153.4,83.4 153.9,85.6 154.5,86.1 155.0,85.6 155.6,86.3 156.1,81.8 156.7,84.3 157.2,85.8 157.8,86.7 158.3,86.9 158.9,87.4 159.4,84.2 160.0,85.1 160.5,84.8 161.1,86.5 161.6,86.7 162.2,88.9 162.7,89.7 163.3,90.7 163.8,90.1 164.4,89.0 164.9,88.5 165.5,87.6 166.0,87.2 166.6,88.9 167.1,87.8 167.7,85.8 168.2,86.6 168.8,84.7 169.3,85.1 169.9,85.2 170.4,87.6 171.0,87.8 171.5,89.0 172.1,86.4 172.6,88.3 173.2,86.6 173.7,84.4 174.3,83.4 174.8,85.4 175.4,84.5 175.9,87.3 176.5,84.5 177.0,84.0 177.6,86.5 178.1,84.6 178.7,84.0 179.2,83.4 179.8,84.1 180.3,79.6 180.9,84.1 181.4,84.7 182.0,84.7 182.5,81.1 183.1,80.8 183.6,82.1 184.2,82.3 184.7,79.7 185.3,83.9 185.8,83.1 186.4,83.2 186.9,83.7 187.5,86.1 188.0,84.3 188.6,85.5 189.1,85.0 189.7,85.0 190.2,84.4 190.8,84.6 191.3,83.4 191.9,85.4 192.4,85.6 193.0,84.7 193.5,83.6 194.1,84.6 194.6,83.5 195.2,82.5 195.7,83.3 196.3,82.5 196.8,79.6 197.4,81.4 197.9,80.3 198.5,79.5 199.0,79.6 199.6,80.6 200.1,81.5 200.7,78.8 201.2,79.6 201.8,80.2 202.3,81.2 202.9,82.0 203.4,81.9 204.0,81.7 204.5,81.6 205.1,81.1 205.6,81.9 206.2,80.8 206.7,79.9 207.3,80.7 207.8,82.2 208.4,83.2 208.9,83.5 209.5,82.4 210.0,81.6 210.6,82.2 211.1,79.9 211.7,84.9 212.2,82.2 212.8,81.5 213.3,79.9 213.9,82.4 214.4,82.5 215.0,83.0 215.5,85.4 216.1,84.0 216.6,84.0 217.2,83.7 217.7,84.0 218.3,83.6 218.8,86.1 219.4,82.8 219.9,85.2 220.5,85.2 221.0,84.5 221.6,86.3 222.1,85.7 222.7,87.3 223.2,87.8 223.8,88.3 224.3,87.6 224.9,87.4 225.4,86.6 226.0,84.7 226.5,86.7 227.1,85.8 227.6,84.0 228.2,84.8 228.7,85.6 229.3,84.3 229.8,85.6 230.4,83.5 230.9,82.1 231.5,83.2 232.0,80.7 232.6,83.4 233.1,84.2 233.7,84.9 234.2,84.7 234.8,85.0 235.3,83.6 235.9,85.6 236.4,86.8 237.0,88.7 237.5,88.2 238.1,85.9 238.6,89.7 239.2,85.8 239.7,90.0 240.3,89.7 240.8,88.3 241.4,87.4 241.9,89.7 242.5,86.9 243.0,89.9 243.6,89.3 244.1,91.0 244.7,87.3 245.2,86.1 245.8,87.5 246.3,87.5 246.9,87.9 247.4,89.7 248.0,88.1 248.5,86.0 249.1,87.5 249.6,88.6 250.2,88.3 250.7,89.2 251.3,88.7 251.8,88.3 252.4,89.7 252.9,87.5 253.5,87.2 254.0,88.1 254.6,85.8 255.1,88.3 255.7,89.0 256.2,87.2 256.8,86.2 257.3,86.7 257.9,86.3 258.4,85.8 259.0,86.3 259.5,82.0 260.1,86.7 260.6,88.2 261.2,86.9 261.7,87.5 262.3,84.7 262.8,87.6 263.4,89.6 263.9,89.1 264.5,91.5 265.0,90.4 265.6,90.1 266.1,92.3 266.7,91.0 267.2,91.3 267.8,90.0 268.3,90.4 268.9,90.9 269.4,92.1 270.0,92.9 270.5,91.2 271.1,91.1 271.6,92.8 272.2,92.3 272.7,93.3 273.3,93.0 273.8,93.3 274.4,94.9 274.9,94.1 275.5,91.8 276.0,92.9 276.6,92.6 277.1,94.1 277.7,96.1 278.2,94.3 278.8,93.8 279.3,94.6 279.9,94.8 280.4,95.0 281.0,94.7 281.5,94.1 282.1,93.9 282.6,93.8 283.2,95.1 283.7,94.7 284.3,94.4 284.8,92.4 285.4,91.4 285.9,91.7 286.5,94.8 287.0,95.6 287.6,96.2 288.1,96.9 288.7,95.4 289.2,97.6 289.8,96.5 290.3,94.7 290.9,100.0 291.4,96.3 292.0,98.4 292.5,97.1 293.1,95.1 293.6,98.8 294.2,96.1 294.7,95.1 295.3,93.7 295.8,94.9 296.4,94.4 296.9,94.5 297.5,92.6 298.0,90.4 298.6,93.2 299.1,92.9 299.7,92.2 300.2,90.6 300.8,89.8 301.3,90.6 301.9,88.3 302.4,92.1 303.0,91.1 303.5,88.6 304.1,90.4 304.6,91.8 305.2,91.5 305.7,92.6 306.3,91.3 306.8,93.7 307.4,92.6 307.9,90.2 308.5,94.2 309.0,94.3 309.6,96.1 310.1,95.7 310.7,97.1 311.2,97.9 311.8,99.3 312.3,97.5 312.9,99.0 313.4,97.7 314.0,97.1 314.5,95.6 315.1,98.6 315.6,94.8 316.2,97.0 316.7,100.6 317.3,100.0 317.8,100.6 318.4,94.1 318.9,96.8 319.5,95.9 320.0,99.6 320.6,99.4 321.1,98.5 321.7,95.7 322.2,91.9 322.8,96.5 323.3,96.5 323.9,96.2 324.4,98.3 325.0,96.6 325.5,97.8 326.1,97.9 326.6,97.9 327.2,98.0 327.7,93.9 328.3,95.5 328.8,93.8 329.4,92.5 329.9,93.4 330.5,96.2 331.0,95.2 331.6,95.5 332.1,96.2 332.7,98.4 333.2,98.4 333.8,98.0 334.3,96.6 334.9,96.9 335.4,99.1 336.0,97.4 336.5,98.4 337.1,97.7 337.6,96.0 338.2,100.4 338.7,99.3 339.3,99.2 339.8,97.1 340.4,98.6 340.9,98.2 341.5,96.5 342.0,98.7 342.6,98.1 343.1,98.5 343.7,96.5 344.2,94.5 344.8,95.9 345.3,98.2 345.9,99.2 346.4,99.4 347.0,95.1 347.5,98.5 348.1,98.8 348.6,98.5 349.2,97.8 349.7,98.8 350.3,99.6 350.8,100.3 351.4,96.8 351.9,99.9 352.5,97.2 353.0,100.9 353.6,102.5 354.1,100.8 354.7,101.5 355.2,101.2 355.2,105.2 354.7,106.6 354.1,107.5 353.6,107.7 353.0,104.0 352.5,104.5 351.9,104.8 351.4,104.5 350.8,104.9 350.3,105.3 349.7,105.5 349.2,102.2 348.6,102.7 348.1,102.7 347.5,104.1 347.0,103.5 346.4,104.1 345.9,102.5 345.3,102.5 344.8,102.3 344.2,101.6 343.7,100.7 343.1,102.5 342.6,101.8 342.0,103.4 341.5,103.9 340.9,103.5 340.4,102.6 339.8,108.7 339.3,103.4 338.7,103.9 338.2,105.5 337.6,103.6 337.1,102.2 336.5,102.1 336.0,105.0 335.4,102.9 334.9,103.5 334.3,102.5 333.8,103.6 333.2,102.8 332.7,103.9 332.1,101.3 331.6,101.0 331.0,102.0 330.5,103.0 329.9,98.3 329.4,100.2 328.8,99.5 328.3,100.9 327.7,102.6 327.2,103.6 326.6,103.9 326.1,103.4 325.5,102.6 325.0,101.7 324.4,104.3 323.9,101.9 323.3,102.8 322.8,100.6 322.2,101.7 321.7,101.6 321.1,102.3 320.6,102.4 320.0,102.4 319.5,101.9 318.9,102.4 318.4,102.1 317.8,104.0 317.3,104.2 316.7,105.3 316.2,104.1 315.6,103.1 315.1,105.0 314.5,102.3 314.0,104.4 313.4,103.7 312.9,104.0 312.3,104.6 311.8,103.9 311.2,103.7 310.7,102.6 310.1,100.2 309.6,101.0 309.0,99.1 308.5,99.1 307.9,99.1 307.4,99.0 306.8,97.5 306.3,96.8 305.7,98.3 305.2,96.5 304.6,99.9 304.1,94.9 303.5,97.7 303.0,96.8 302.4,96.5 301.9,95.4 301.3,94.9 300.8,97.6 300.2,99.8 299.7,96.8 299.1,96.8 298.6,99.4 298.0,96.6 297.5,98.3 296.9,99.6 296.4,100.3 295.8,100.0 295.3,101.1 294.7,101.6 294.2,102.9 293.6,104.1 293.1,101.4 292.5,102.8 292.0,103.0 291.4,105.0 290.9,103.0 290.3,104.0 289.8,102.9 289.2,103.3 288.7,103.1 288.1,101.2 287.6,100.3 287.0,99.4 286.5,100.0 285.9,98.0 285.4,99.0 284.8,97.7 284.3,99.4 283.7,98.9 283.2,100.8 282.6,99.8 282.1,98.1 281.5,97.4 281.0,98.8 280.4,99.9 279.9,99.2 279.3,100.1 278.8,98.1 278.2,99.3 277.7,101.2 277.1,99.9 276.6,98.1 276.0,96.2 275.5,97.7 274.9,99.4 274.4,97.8 273.8,98.7 273.3,96.6 272.7,97.0 272.2,96.9 271.6,96.6 271.1,96.7 270.5,95.8 270.0,96.8 269.4,97.8 268.9,95.9 268.3,96.2 267.8,96.3 267.2,95.7 266.7,95.7 266.1,96.8 265.6,97.2 265.0,96.5 264.5,96.2 263.9,93.7 263.4,93.7 262.8,93.5 262.3,93.7 261.7,92.2 261.2,93.2 260.6,92.7 260.1,91.6 259.5,89.8 259.0,89.3 258.4,91.0 257.9,90.5 257.3,90.9 256.8,92.9 256.2,93.4 255.7,94.5 255.1,93.5 254.6,94.4 254.0,94.5 253.5,91.6 252.9,94.7 252.4,95.8 251.8,94.1 251.3,92.2 250.7,93.0 250.2,93.3 249.6,93.2 249.1,94.0 248.5,94.0 248.0,91.8 247.4,95.0 246.9,92.0 246.3,94.3 245.8,91.5 245.2,92.1 244.7,94.3 244.1,95.5 243.6,93.1 243.0,93.9 242.5,93.3 241.9,94.0 241.4,93.3 240.8,94.2 240.3,94.7 239.7,95.0 239.2,93.8 238.6,93.2 238.1,93.4 237.5,95.8 237.0,96.5 236.4,91.7 235.9,90.7 235.3,89.3 234.8,90.3 234.2,88.3 233.7,90.6 233.1,90.6 232.6,88.6 232.0,87.8 231.5,88.7 230.9,88.0 230.4,90.5 229.8,91.7 229.3,90.9 228.7,91.3 228.2,93.8 227.6,89.7 227.1,93.2 226.5,93.1 226.0,90.1 225.4,90.5 224.9,93.4 224.3,93.9 223.8,94.0 223.2,92.9 222.7,93.4 222.1,91.5 221.6,93.7 221.0,90.7 220.5,89.4 219.9,89.9 219.4,90.2 218.8,89.6 218.3,88.5 217.7,89.9 217.2,88.7 216.6,87.9 216.1,91.1 215.5,92.1 215.0,91.3 214.4,87.0 213.9,87.5 213.3,90.8 212.8,88.1 212.2,87.4 211.7,89.8 211.1,86.5 210.6,86.9 210.0,87.1 209.5,90.7 208.9,87.7 208.4,86.5 207.8,87.1 207.3,86.4 206.7,89.6 206.2,89.5 205.6,87.0 205.1,89.8 204.5,87.4 204.0,87.4 203.4,89.0 202.9,87.0 202.3,85.9 201.8,86.2 201.2,85.2 200.7,84.5 200.1,87.2 199.6,84.9 199.0,85.9 198.5,85.3 197.9,84.2 197.4,85.0 196.8,86.1 196.3,88.0 195.7,87.6 195.2,88.9 194.6,88.9 194.1,92.9 193.5,92.0 193.0,92.1 192.4,88.8 191.9,91.4 191.3,91.1 190.8,89.1 190.2,88.9 189.7,90.2 189.1,90.1 188.6,89.6 188.0,88.9 187.5,92.1 186.9,88.3 186.4,88.1 185.8,87.9 185.3,87.4 184.7,87.1 184.2,85.8 183.6,86.2 183.1,86.8 182.5,89.1 182.0,89.3 181.4,91.3 180.9,90.5 180.3,88.1 179.8,87.7 179.2,87.9 178.7,90.0 178.1,90.8 177.6,93.5 177.0,95.2 176.5,91.7 175.9,92.3 175.4,90.5 174.8,90.4 174.3,90.0 173.7,90.1 173.2,92.4 172.6,93.4 172.1,93.9 171.5,93.3 171.0,92.7 170.4,93.4 169.9,92.0 169.3,91.9 168.8,91.7 168.2,90.5 167.7,91.1 167.1,94.5 166.6,93.6 166.0,98.0 165.5,93.4 164.9,93.2 164.4,94.1 163.8,95.0 163.3,95.4 162.7,94.8 162.2,94.1 161.6,94.9 161.1,96.2 160.5,92.1 160.0,94.3 159.4,93.6 158.9,93.1 158.3,92.8 157.8,91.2 157.2,91.0 156.7,90.1 156.1,89.6 155.6,90.7 155.0,91.5 154.5,91.1 153.9,90.6 153.4,89.7 152.8,90.8 152.3,91.2 151.7,89.5 151.2,90.1 150.6,89.9 150.1,92.2 149.5,92.5 149.0,91.8 148.4,93.6 147.9,96.9 147.3,94.5 146.8,94.7 146.2,94.8 145.7,92.1 145.1,91.4 144.6,95.5 144.0,94.4 143.5,92.7 142.9,94.0 142.4,95.6 141.8,94.2 141.3,93.1 140.7,98.7 140.2,95.7 139.6,93.7 139.1,97.1 138.5,94.4 138.0,93.5 137.4,93.9 136.9,95.0 136.3,95.4 135.8,96.4 135.2,92.9 134.7,92.2 134.1,92.1 133.6,92.4 133.0,93.1 132.5,92.7 131.9,93.4 131.4,95.3 130.8,92.0 130.3,90.5 129.7,93.3 129.2,91.6 128.6,95.1 128.1,95.2 127.5,93.6 127.0,93.5 126.4,93.5 125.9,92.2 125.3,93.1 124.8,94.9 124.2,95.9 123.7,93.6 123.1,93.7 122.6,90.5 122.0,92.0 121.5,90.0 120.9,93.8 120.4,92.3 119.8,95.9 119.3,96.1 118.7,92.8 118.2,92.4 117.6,93.4 117.1,90.9 116.5,91.3 116.0,92.3 115.4,92.2 114.9,93.9 114.3,92.1 113.8,91.0 113.2,92.4 112.7,90.8 112.1,90.4 111.6,89.6 111.0,88.8 110.5,88.8 109.9,88.5 109.4,92.0 108.8,90.1 108.3,90.3 107.7,88.7 107.2,89.4 106.6,87.8 106.1,88.5 105.5,88.4 105.0,91.8 104.4,92.1 103.9,91.1 103.3,93.3 102.8,91.8 102.2,92.1 101.7,91.7 101.1,92.8 100.6,93.8 100.0,92.7 99.5,94.6 98.9,97.8 98.4,94.1 97.8,92.5 97.3,88.9 96.7,90.0 96.2,88.8 95.6,91.2 95.1,91.0 94.5,93.2 94.0,92.0 93.4,89.8 92.9,89.5 92.3,93.1 91.8,91.0 91.2,91.2 90.7,91.8 90.1,94.6 89.6,92.2 89.0,91.5 88.5,91.6 87.9,91.4 87.4,92.9 86.8,92.5 86.3,93.2 85.7,93.4 85.2,95.1 84.6,95.1 84.1,95.6 83.5,101.0 83.0,96.5 82.4,96.1 81.9,94.8 81.3,96.4 80.8,92.6 80.2,94.9 79.7,92.8 79.1,90.9 78.6,89.7 78.0,91.2 77.5,92.2 76.9,93.2 76.4,96.0 75.8,93.9 75.3,94.0 74.7,99.1 74.2,97.2 73.6,98.4 73.1,102.2 72.5,108.1 72.0,107.0 71.4,107.8 70.9,107.4 70.3,109.1 69.8,112.8 69.2,109.0 68.7,109.8 68.1,112.9 67.6,111.4 67.0,112.2 66.5,114.2 65.9,114.1 65.4,113.0 64.8,111.2 64.3,112.1 63.7,110.9 63.2,111.9 62.6,115.7 62.1,120.7 61.5,124.3 61.0,122.6 60.4,126.5 59.9,130.8 59.3,128.4 58.8,128.7 58.2,128.6 57.7,130.4 57.1,134.4 56.6,131.7 56.0,138.8 55.5,132.3 54.9,140.5 54.4,140.7 53.8,139.7 53.3,142.0 52.7,140.5 52.2,144.5 51.6,144.0 51.1,142.7 50.5,150.5 50.0,149.8 49.4,148.2 48.9,153.0 48.3,150.3 47.8,154.2 47.2,158.9 46.7,164.4 46.1,167.7 45.6,173.3 45.0,177.8 44.5,180.7 43.9,187.2 43.4,188.4 42.8,187.4 42.3,194.0 41.7,194.8 41.2,203.2 40.6,210.6 40.1,207.5 39.5,209.7 39.0,214.1" fill="#ff0000" fill-opacity="0.27"/>
<polygon points="39.0,188.8 39.5,183.7 40.1,176.8 40.6,174.9 41.2,166.5 41.7,166.9 42.3,152.6 42.8,156.0 43.4,150.5 43.9,147.9 44.5,151.2 45.0,147.8 45.6,153.9 46.1,157.4 46.7,154.0 47.2,153.1 47.8,149.3 48.3,148.6 48.9,143.3 49.4,135.9 50.0,141.2 50.5,136.4 51.1,135.5 51.6,138.0 52.2,136.8 52.7,137.2 53.3,132.6 53.8,132.5 54.4,132.3 54.9,126.7 55.5,128.3 56.0,130.6 56.6,130.4 57.1,130.9 57.7,129.4 58.2,127.3 58.8,124.3 59.3,126.4 59.9,122.7 60.4,126.4 61.0,126.0 61.5,124.6 62.1,127.7 62.6,122.9 63.2,116.7 63.7,113.0 64.3,111.3 64.8,111.7 65.4,109.5 65.9,107.3 66.5,105.2 67.0,105.0 67.6,101.9 68.1,95.3 68.7,99.8 69.2,94.4 69.8,96.1 70.3,93.0 70.9,93.2 71.4,93.1 72.0,92.2 72.5,89.1 73.1,91.9 73.6,89.8 74.2,89.8 74.7,84.9 75.3,87.6 75.8,88.3 76.4,87.3 76.9,90.5 77.5,91.9 78.0,91.3 78.6,88.2 79.1,87.5 79.7,90.2 80.2,88.9 80.8,90.0 81.3,89.6 81.9,89.2 82.4,88.1 83.0,88.5 83.5,86.2 84.1,89.2 84.6,90.4 85.2,86.9 85.7,87.2 86.3,88.3 86.8,81.6 87.4,81.7 87.9,82.6 88.5,81.9 89.0,81.4 89.6,80.3 90.1,81.3 90.7,78.6 91.2,80.2 91.8,79.8 92.3,82.0 92.9,78.9 93.4,78.8 94.0,80.9 94.5,79.4 95.1,80.4 95.6,79.3 96.2,82.8 96.7,82.1 97.3,83.5 97.8,81.9 98.4,81.3 98.9,84.4 99.5,85.7 100.0,84.9 100.6,82.3 101.1,83.2 101.7,85.2 102.2,84.4 102.8,83.7 103.3,82.5 103.9,84.3 104.4,83.8 105.0,83.5 105.5,82.7 106.1,83.2 106.6,84.0 107.2,84.1 107.7,84.8 108.3,83.8 108.8,84.2 109.4,82.1 109.9,81.4 110.5,80.5 111.0,79.0 111.6,82.9 112.1,83.6 112.7,85.0 113.2,84.3 113.8,89.2 114.3,89.4 114.9,90.4 115.4,90.7 116.0,89.7 116.5,87.4 117.1,86.8 117.6,86.7 118.2,89.0 118.7,89.1 119.3,86.7 119.8,87.2 120.4,89.8 120.9,89.2 121.5,89.7 122.0,89.2 122.6,89.3 123.1,88.2 123.7,89.6 124.2,91.4 124.8,90.3 125.3,90.1 125.9,92.1 126.4,91.1 127.0,89.8 127.5,90.6 128.1,90.3 128.6,89.0 129.2,89.7 129.7,88.5 130.3,88.8 130.8,89.4 131.4,89.1 131.9,85.6 132.5,87.3 133.0,88.2 133.6,86.0 134.1,86.6 134.7,90.7 135.2,91.4 135.8,91.0 136.3,92.7 136.9,94.2 137.4,95.1 138.0,92.4 138.5,92.7 139.1,93.9 139.6,93.6 140.2,92.5 140.7,91.3 141.3,93.5 141.8,91.0 142.4,93.3 142.9,91.9 143.5,92.5 144.0,92.4 144.6,94.0 145.1,93.5 145.7,93.6 146.2,92.4 146.8,94.1 147.3,92.3 147.9,93.0 148.4,93.6 149.0,93.1 149.5,92.4 150.1,92.1 150.6,92.0 151.2,91.9 151.7,93.7 152.3,92.6 152.8,93.5 153.4,92.3 153.9,92.7 154.5,91.6 155.0,91.5 155.6,90.7 156.1,88.5 156.7,91.2 157.2,89.9 157.8,89.9 158.3,91.8 158.9,88.4 159.4,91.2 160.0,89.9 160.5,91.6 161.1,91.7 161.6,92.2 162.2,92.1 162.7,91.2 163.3,91.6 163.8,90.3 164.4,92.4 164.9,93.7 165.5,92.1 166.0,95.0 166.6,93.3 167.1,93.1 167.7,91.3 168.2,92.5 168.8,88.6 169.3,88.8 169.9,93.3 170.4,90.3 171.0,88.2 171.5,89.5 172.1,90.1 172.6,89.6 173.2,89.7 173.7,91.6 174.3,91.1 174.8,89.1 175.4,91.7 175.9,91.9 176.5,88.9 177.0,89.2 177.6,91.2 178.1,90.8 178.7,90.1 179.2,90.1 179.8,87.8 180.3,87.2 180.9,86.8 181.4,86.7 182.0,88.3 182.5,86.7 183.1,86.9 183.6,83.9 184.2,87.8 184.7,88.4 185.3,88.2 185.8,89.1 186.4,88.9 186.9,87.6 187.5,89.0 188.0,89.0 188.6,89.9 189.1,90.3 189.7,89.8 190.2,89.9 190.8,89.4 191.3,88.4 191.9,89.0 192.4,88.8 193.0,88.9 193.5,90.9 194.1,90.0 194.6,89.9 195.2,87.8 195.7,86.8 196.3,88.3 196.8,88.8 197.4,91.5 197.9,91.8 198.5,91.4 199.0,93.0 199.6,92.4 200.1,94.8 200.7,92.7 201.2,91.9 201.8,92.3 202.3,92.4 202.9,88.6 203.4,92.5 204.0,92.6 204.5,88.2 205.1,90.1 205.6,88.8 206.2,88.4 206.7,90.0 207.3,90.5 207.8,89.9 208.4,88.5 208.9,87.1 209.5,88.4 210.0,88.1 210.6,90.8 211.1,91.1 211.7,92.6 212.2,91.4 212.8,89.3 213.3,85.9 213.9,87.8 214.4,84.6 215.0,88.3 215.5,89.7 216.1,88.7 216.6,87.8 217.2,91.7 217.7,91.4 218.3,88.3 218.8,90.8 219.4,87.6 219.9,91.6 220.5,90.1 221.0,90.2 221.6,91.9 222.1,91.7 222.7,90.8 223.2,87.6 223.8,88.6 224.3,89.2 224.9,89.0 225.4,87.5 226.0,86.1 226.5,87.6 227.1,87.2 227.6,85.9 228.2,87.7 228.7,86.8 229.3,87.2 229.8,89.6 230.4,88.8 230.9,87.2 231.5,89.0 232.0,90.6 232.6,89.2 233.1,87.8 233.7,87.8 234.2,89.6 234.8,84.4 235.3,86.9 235.9,88.9 236.4,88.9 237.0,91.8 237.5,90.5 238.1,91.8 238.6,92.7 239.2,91.2 239.7,93.5 240.3,93.8 240.8,92.8 241.4,93.4 241.9,93.3 242.5,91.7 243.0,93.1 243.6,92.9 244.1,94.1 244.7,94.6 245.2,95.9 245.8,93.8 246.3,93.7 246.9,93.4 247.4,93.3 248.0,94.3 248.5,94.5 249.1,94.4 249.6,93.6 250.2,92.2 250.7,94.8 251.3,94.6 251.8,92.8 252.4,94.3 252.9,94.0 253.5,95.2 254.0,93.0 254.6,95.1 255.1,95.2 255.7,96.9 256.2,94.6 256.8,96.3 257.3,96.1 257.9,94.2 258.4,95.0 259.0,92.2 259.5,91.9 260.1,93.4 260.6,93.4 261.2,92.9 261.7,92.8 262.3,92.4 262.8,94.1 263.4,93.1 263.9,93.1 264.5,94.2 265.0,92.9 265.6,91.5 266.1,94.2 266.7,93.3 267.2,94.1 267.8,94.6 268.3,92.2 268.9,92.7 269.4,94.9 270.0,95.5 270.5,94.0 271.1,93.6 271.6,94.6 272.2,94.8 272.7,96.2 273.3,92.3 273.8,95.9 274.4,93.1 274.9,95.7 275.5,95.8 276.0,97.1 276.6,94.7 277.1,98.8 277.7,96.9 278.2,96.7 278.8,98.8 279.3,97.2 279.9,98.8 280.4,96.3 281.0,96.3 281.5,94.4 282.1,95.4 282.6,96.4 283.2,95.9 283.7,95.3 284.3,98.4 284.8,98.9 285.4,97.9 285.9,98.7 286.5,98.1 287.0,96.8 287.6,96.0 288.1,96.1 288.7,98.8 289.2,95.8 289.8,99.3 290.3,98.1 290.9,100.7 291.4,98.7 292.0,97.4 292.5,94.0 293.1,99.4 293.6,97.1 294.2,99.5 294.7,99.3 295.3,98.8 295.8,100.7 296.4,100.4 296.9,95.5 297.5,94.7 298.0,100.6 298.6,99.7 299.1,98.0 299.7,98.4 300.2,98.6 300.8,96.3 301.3,95.3 301.9,97.0 302.4,95.2 303.0,95.0 303.5,97.2 304.1,97.3 304.6,99.1 305.2,98.6 305.7,100.5 306.3,99.1 306.8,99.8 307.4,97.7 307.9,98.4 308.5,98.6 309.0,100.3 309.6,98.6 310.1,98.2 310.7,99.5 311.2,100.0 311.8,100.4 312.3,100.7 312.9,100.6 313.4,101.8 314.0,101.2 314.5,100.5 315.1,100.3 315.6,101.1 316.2,99.6 316.7,100.4 317.3,101.5 317.8,102.1 318.4,101.9 318.9,100.6 319.5,99.3 320.0,99.1 320.6,96.7 321.1,98.8 321.7,98.7 322.2,98.4 322.8,98.9 323.3,98.5 323.9,99.0 324.4,97.4 325.0,99.5 325.5,99.5 326.1,98.3 326.6,98.4 327.2,98.1 327.7,96.3 328.3,98.6 328.8,99.0 329.4,101.1 329.9,98.6 330.5,102.6 331.0,100.2 331.6,95.9 332.1,101.0 332.7,101.3 333.2,98.3 333.8,98.7 334.3,98.8 334.9,103.0 335.4,102.0 336.0,103.0 336.5,101.3 337.1,105.3 337.6,103.8 338.2,103.2 338.7,102.3 339.3,104.8 339.8,107.0 340.4,106.1 340.9,104.0 341.5,102.5 342.0,102.5 342.6,103.1 343.1,101.4 343.7,102.3 344.2,103.5 344.8,103.0 345.3,103.5 345.9,104.5 346.4,103.2 347.0,104.9 347.5,104.9 348.1,103.1 348.6,103.9 349.2,102.3 349.7,102.4 350.3,104.1 350.8,104.6 351.4,103.3 351.9,101.9 352.5,103.7 353.0,103.0 353.6,103.0 354.1,102.6 354.7,105.5 355.2,104.3 355.2,109.6 354.7,109.2 354.1,108.9 353.6,107.8 353.0,108.1 352.5,106.9 351.9,108.5 351.4,108.4 350.8,107.4 350.3,107.6 349.7,107.7 349.2,107.3 348.6,108.7 348.1,108.5 347.5,109.5 347.0,109.1 346.4,108.2 345.9,107.7 345.3,110.2 344.8,107.9 344.2,110.7 343.7,109.0 343.1,106.6 342.6,107.8 342.0,109.2 341.5,109.4 340.9,110.6 340.4,108.8 339.8,113.1 339.3,109.0 338.7,109.1 338.2,107.7 337.6,108.4 337.1,108.5 336.5,106.2 336.0,106.9 335.4,106.3 334.9,107.6 334.3,106.5 333.8,104.5 333.2,108.5 332.7,105.2 332.1,105.1 331.6,105.5 331.0,105.2 330.5,105.7 329.9,104.9 329.4,105.2 328.8,105.8 328.3,106.1 327.7,105.2 327.2,103.4 326.6,103.6 326.1,104.4 325.5,103.6 325.0,102.9 324.4,103.8 323.9,102.9 323.3,104.8 322.8,103.0 322.2,103.6 321.7,104.1 321.1,102.9 320.6,102.7 320.0,103.5 319.5,104.0 318.9,104.5 318.4,106.1 317.8,108.9 317.3,105.3 316.7,105.2 316.2,105.1 315.6,107.0 315.1,106.3 314.5,104.7 314.0,109.4 313.4,105.2 312.9,105.7 312.3,107.3 311.8,105.6 311.2,105.4 310.7,104.9 310.1,103.8 309.6,104.9 309.0,106.3 308.5,104.6 307.9,103.8 307.4,104.8 306.8,104.1 306.3,103.1 305.7,103.3 305.2,104.7 304.6,104.3 304.1,102.5 303.5,103.0 303.0,100.9 302.4,100.6 301.9,101.0 301.3,102.2 300.8,104.7 300.2,105.0 299.7,103.8 299.1,103.4 298.6,104.3 298.0,104.5 297.5,102.9 296.9,106.0 296.4,104.7 295.8,104.4 295.3,103.9 294.7,103.2 294.2,103.7 293.6,103.1 293.1,104.3 292.5,102.3 292.0,105.2 291.4,106.9 290.9,104.3 290.3,103.0 289.8,104.1 289.2,102.4 288.7,103.6 288.1,103.0 287.6,105.0 287.0,103.2 286.5,102.1 285.9,102.1 285.4,102.4 284.8,103.3 284.3,101.9 283.7,103.2 283.2,101.1 282.6,99.9 282.1,100.0 281.5,98.8 281.0,101.4 280.4,103.3 279.9,102.2 279.3,102.5 278.8,102.0 278.2,100.2 277.7,101.4 277.1,101.9 276.6,101.8 276.0,102.0 275.5,100.4 274.9,100.2 274.4,102.1 273.8,100.2 273.3,99.6 272.7,100.6 272.2,100.0 271.6,103.4 271.1,98.3 270.5,99.3 270.0,99.1 269.4,99.4 268.9,98.2 268.3,102.5 267.8,100.3 267.2,100.2 266.7,99.1 266.1,102.8 265.6,97.5 265.0,98.9 264.5,101.8 263.9,99.2 263.4,100.1 262.8,100.5 262.3,97.5 261.7,99.8 261.2,100.3 260.6,98.5 260.1,100.6 259.5,99.3 259.0,98.5 258.4,100.1 257.9,100.3 257.3,100.3 256.8,101.0 256.2,99.1 255.7,100.6 255.1,99.6 254.6,100.9 254.0,101.2 253.5,99.5 252.9,100.0 252.4,100.2 251.8,97.5 251.3,99.5 250.7,99.1 250.2,98.2 249.6,98.3 249.1,98.6 248.5,98.6 248.0,101.4 247.4,99.6 246.9,96.9 246.3,100.5 245.8,101.6 245.2,100.8 244.7,99.6 244.1,99.3 243.6,99.4 243.0,98.3 242.5,97.7 241.9,97.9 241.4,98.3 240.8,97.0 240.3,99.9 239.7,100.2 239.2,99.7 238.6,97.9 238.1,97.4 237.5,95.2 237.0,95.3 236.4,96.1 235.9,96.6 235.3,93.1 234.8,96.3 234.2,93.1 233.7,95.1 233.1,93.3 232.6,94.2 232.0,95.4 231.5,96.2 230.9,95.0 230.4,94.8 229.8,93.6 229.3,93.4 228.7,95.4 228.2,92.5 227.6,95.2 227.1,94.0 226.5,92.8 226.0,91.8 225.4,95.0 224.9,96.5 224.3,92.5 223.8,94.9 223.2,94.2 222.7,94.9 222.1,96.6 221.6,97.8 221.0,94.6 220.5,95.6 219.9,96.5 219.4,98.8 218.8,97.0 218.3,94.7 217.7,95.1 217.2,97.7 216.6,96.9 216.1,94.5 215.5,93.5 215.0,91.6 214.4,91.8 213.9,92.4 213.3,94.7 212.8,96.1 212.2,98.4 211.7,96.4 211.1,97.6 210.6,96.7 210.0,95.3 209.5,93.0 208.9,94.1 208.4,92.7 207.8,96.0 207.3,93.9 206.7,96.8 206.2,94.9 205.6,95.3 205.1,95.4 204.5,94.5 204.0,96.5 203.4,97.0 202.9,99.0 202.3,98.7 201.8,98.9 201.2,97.5 200.7,99.0 200.1,102.5 199.6,99.5 199.0,99.9 198.5,97.7 197.9,96.6 197.4,96.0 196.8,95.1 196.3,93.0 195.7,92.4 195.2,93.9 194.6,95.4 194.1,96.2 193.5,95.8 193.0,93.1 192.4,95.7 191.9,92.3 191.3,93.8 190.8,93.6 190.2,94.4 189.7,97.3 189.1,95.4 188.6,93.6 188.0,94.9 187.5,93.4 186.9,93.9 186.4,93.7 185.8,94.5 185.3,92.3 184.7,93.0 184.2,93.2 183.6,90.7 183.1,92.1 182.5,92.6 182.0,92.5 181.4,91.8 180.9,94.1 180.3,93.7 179.8,93.8 179.2,94.8 178.7,93.7 178.1,96.3 177.6,96.8 177.0,98.0 176.5,96.4 175.9,98.2 175.4,97.4 174.8,95.2 174.3,94.5 173.7,95.9 173.2,96.7 172.6,96.8 172.1,98.1 171.5,95.1 171.0,95.3 170.4,97.0 169.9,97.6 169.3,95.7 168.8,99.0 168.2,96.7 167.7,98.4 167.1,99.0 166.6,99.1 166.0,101.1 165.5,99.6 164.9,100.7 164.4,97.0 163.8,99.4 163.3,97.8 162.7,97.9 162.2,98.0 161.6,96.3 161.1,98.8 160.5,98.6 160.0,100.4 159.4,99.2 158.9,95.5 158.3,96.5 157.8,97.8 157.2,99.8 156.7,95.5 156.1,95.5 155.6,98.4 155.0,95.8 154.5,99.0 153.9,98.8 153.4,101.5 152.8,99.0 152.3,97.5 151.7,99.0 151.2,97.0 150.6,97.9 150.1,98.8 149.5,97.6 149.0,97.7 148.4,99.2 147.9,99.6 147.3,96.9 146.8,99.5 146.2,99.0 145.7,97.9 145.1,100.0 144.6,97.9 144.0,101.6 143.5,97.0 142.9,96.5 142.4,98.6 141.8,97.3 141.3,98.4 140.7,101.7 140.2,97.3 139.6,99.0 139.1,98.4 138.5,100.3 138.0,99.6 137.4,99.9 136.9,99.1 136.3,100.6 135.8,101.6 135.2,96.6 134.7,95.5 134.1,95.7 133.6,92.0 133.0,92.7 132.5,94.9 131.9,92.6 131.4,94.1 130.8,93.6 130.3,93.2 129.7,92.8 129.2,96.0 128.6,94.2 128.1,97.5 127.5,96.6 127.0,98.4 126.4,96.0 125.9,99.0 125.3,96.7 124.8,98.1 124.2,95.5 123.7,94.5 123.1,95.8 122.6,95.0 122.0,98.1 121.5,94.3 120.9,97.8 120.4,97.4 119.8,96.9 119.3,94.6 118.7,94.2 118.2,94.4 117.6,96.2 117.1,94.4 116.5,96.6 116.0,95.2 115.4,95.9 114.9,95.5 114.3,93.5 113.8,94.7 113.2,93.9 112.7,90.5 112.1,89.2 111.6,86.9 111.0,88.5 110.5,88.4 109.9,91.9 109.4,88.3 108.8,89.5 108.3,89.4 107.7,89.6 107.2,90.4 106.6,91.7 106.1,89.4 105.5,88.9 105.0,88.7 104.4,89.2 103.9,90.4 103.3,89.0 102.8,92.8 102.2,94.4 101.7,90.5 101.1,90.2 100.6,91.1 100.0,90.3 99.5,92.4 98.9,91.3 98.4,90.8 97.8,91.4 97.3,93.2 96.7,95.8 96.2,90.5 95.6,88.9 95.1,87.1 94.5,88.9 94.0,85.9 93.4,86.6 92.9,85.9 92.3,87.6 91.8,86.7 91.2,87.5 90.7,89.1 90.1,88.5 89.6,87.4 89.0,89.4 88.5,88.3 87.9,88.3 87.4,91.1 86.8,93.9 86.3,96.2 85.7,93.2 85.2,95.0 84.6,95.4 84.1,96.6 83.5,95.8 83.0,97.6 82.4,99.0 81.9,94.7 81.3,95.4 80.8,99.4 80.2,96.5 79.7,97.4 79.1,95.6 78.6,97.0 78.0,96.6 77.5,99.2 76.9,103.4 76.4,101.1 75.8,98.8 75.3,97.4 74.7,99.5 74.2,98.6 73.6,97.7 73.1,98.9 72.5,98.9 72.0,104.6 71.4,103.9 70.9,103.6 70.3,103.7 69.8,105.2 69.2,106.6 68.7,110.5 68.1,109.6 67.6,113.8 67.0,116.7 66.5,116.9 65.9,116.4 65.4,119.1 64.8,119.5 64.3,122.5 63.7,125.9 63.2,129.4 62.6,131.7 62.1,137.9 61.5,138.1 61.0,135.4 60.4,137.5 59.9,134.5 59.3,137.4 58.8,136.3 58.2,137.7 57.7,140.4 57.1,140.4 56.6,141.2 56.0,143.6 55.5,142.2 54.9,145.6 54.4,143.3 53.8,148.5 53.3,142.7 52.7,147.2 52.2,151.1 51.6,150.1 51.1,148.8 50.5,154.0 50.0,152.9 49.4,162.1 48.9,155.9 48.3,158.7 47.8,165.3 47.2,174.0 46.7,166.9 46.1,167.8 45.6,166.1 45.0,167.4 44.5,169.3 43.9,166.7 43.4,165.0 42.8,174.8 42.3,180.4 41.7,180.6 41.2,184.7 40.6,187.6 40.1,195.2 39.5,199.7 39.0,210.6" fill="#008000" fill-opacity="0.27"/>
<polyline points="39.0,163.4 39.5,161.6 40.1,159.6 40.6,157.4 41.2,157.2 41.7,158.1 42.3,158.6 42.8,157.7 43.4,155.8 43.9,156.2 44.5,153.8 45.0,153.8 45.6,152.2 46.1,152.1 46.7,153.6 47.2,153.7 47.8,155.4 48.3,152.8 48.9,154.3 49.4,154.0 50.0,151.4 50.5,150.2 51.1,149.5 51.6,146.2 52.2,148.8 52.7,148.9 53.3,148.6 53.8,150.1 54.4,147.6 54.9,147.6 55.5,144.6 56.0,144.4 56.6,143.1 57.1,145.8 57.7,146.2 58.2,146.7 58.8,146.8 59.3,144.6 59.9,143.0 60.4,141.6 61.0,139.2 61.5,136.2 62.1,137.9 62.6,139.2 63.2,138.8 63.7,140.0 64.3,138.1 64.8,138.5 65.4,137.0 65.9,135.9 66.5,135.1 67.0,132.8 67.6,132.1 68.1,130.1 68.7,129.8 69.2,128.8 69.8,127.1 70.3,125.1 70.9,122.9 71.4,121.6 72.0,119.0 72.5,117.3 73.1,114.7 73.6,113.3 74.2,112.0 74.7,111.4 75.3,112.0 75.8,111.3 76.4,111.7 76.9,112.6 77.5,110.9 78.0,110.8 78.6,110.8 79.1,108.6 79.7,107.3 80.2,105.6 80.8,106.4 81.3,104.2 81.9,105.1 82.4,105.1 83.0,105.7 83.5,104.3 84.1,104.2 84.6,104.3 85.2,105.5 85.7,105.4 86.3,104.5 86.8,103.0 87.4,101.9 87.9,101.5 88.5,100.5 89.0,100.4 89.6,100.8 90.1,100.0 90.7,100.4 91.2,98.5 91.8,97.6 92.3,97.7 92.9,97.1 93.4,97.0 94.0,98.1 94.5,97.8 95.1,98.1 95.6,97.8 96.2,99.5 96.7,99.4 97.3,99.2 97.8,98.2 98.4,98.3 98.9,98.4 99.5,98.7 100.0,97.5 100.6,97.0 101.1,96.2 101.7,96.9 102.2,96.1 102.8,96.3 103.3,95.9 103.9,95.8 104.4,95.6 105.0,96.2 105.5,95.1 106.1,96.1 106.6,95.9 107.2,95.3 107.7,95.3 108.3,93.9 108.8,93.4 109.4,92.0 109.9,91.5 110.5,91.7 111.0,91.8 111.6,90.7 112.1,90.0 112.7,89.6 113.2,89.5 113.8,90.1 114.3,91.5 114.9,89.9 115.4,89.8 116.0,88.7 116.5,89.2 117.1,89.6 117.6,88.9 118.2,89.1 118.7,89.5 119.3,88.6 119.8,87.7 120.4,88.1 120.9,88.5 121.5,90.6 122.0,90.3 122.6,90.6 123.1,90.4 123.7,89.4 124.2,89.2 124.8,89.6 125.3,89.3 125.9,88.7 126.4,87.6 127.0,89.2 127.5,88.0 128.1,87.3 128.6,88.1 129.2,87.7 129.7,87.9 130.3,86.6 130.8,86.2 131.4,88.2 131.9,87.7 132.5,87.2 133.0,86.9 133.6,87.0 134.1,87.8 134.7,87.3 135.2,87.2 135.8,86.9 136.3,88.3 136.9,88.0 137.4,89.0 138.0,88.6 138.5,87.4 139.1,86.3 139.6,86.6 140.2,87.5 140.7,87.8 141.3,87.4 141.8,87.0 142.4,87.4 142.9,86.0 143.5,86.0 144.0,85.9 144.6,84.8 145.1,86.6 145.7,86.5 146.2,85.9 146.8,86.0 147.3,85.7 147.9,84.2 148.4,83.7 149.0,84.6 149.5,84.2 150.1,84.9 150.6,84.8 151.2,84.9 151.7,83.6 152.3,82.9 152.8,83.0 153.4,82.8 153.9,83.3 154.5,83.4 155.0,82.8 155.6,82.7 156.1,82.7 156.7,83.4 157.2,83.7 157.8,84.2 158.3,85.2 158.9,84.8 159.4,84.1 160.0,83.1 160.5,83.8 161.1,83.9 161.6,84.0 162.2,84.3 162.7,84.2 163.3,84.4 163.8,85.0 164.4,85.0 164.9,85.1 165.5,85.6 166.0,86.4 166.6,86.1 167.1,85.2 167.7,85.2 168.2,84.5 168.8,83.7 169.3,83.2 169.9,83.3 170.4,82.9 171.0,83.9 171.5,82.7 172.1,83.2 172.6,83.1 173.2,83.6 173.7,83.1 174.3,82.5 174.8,82.1 175.4,82.5 175.9,83.1 176.5,82.9 177.0,82.4 177.6,81.3 178.1,80.5 178.7,80.4 179.2,79.3 179.8,80.1 180.3,80.6 180.9,79.8 181.4,79.4 182.0,79.8 182.5,79.5 183.1,80.2 183.6,80.4 184.2,80.3 184.7,79.2 185.3,80.6 185.8,81.7 186.4,80.8 186.9,81.1 187.5,81.9 188.0,80.9 188.6,81.2 189.1,80.6 189.7,79.3 190.2,80.4 190.8,80.0 191.3,80.3 191.9,80.8 192.4,80.3 193.0,80.6 193.5,81.9 194.1,82.1 194.6,81.6 195.2,80.3 195.7,80.5 196.3,80.4 196.8,82.3 197.4,82.1 197.9,81.2 198.5,81.1 199.0,81.5 199.6,81.6 200.1,82.5 200.7,82.5 201.2,82.4 201.8,81.5 202.3,80.1 202.9,79.5 203.4,80.5 204.0,80.2 204.5,80.5 205.1,81.2 205.6,81.2 206.2,79.2 206.7,79.1 207.3,78.1 207.8,79.2 208.4,80.1 208.9,80.6 209.5,80.8 210.0,82.1 210.6,82.1 211.1,81.9 211.7,83.1 212.2,81.9 212.8,81.5 213.3,83.2 213.9,81.6 214.4,81.2 215.0,81.0 215.5,81.0 216.1,81.8 216.6,82.4 217.2,82.3 217.7,82.3 218.3,82.0 218.8,82.3 219.4,82.4 219.9,82.2 220.5,81.7 221.0,82.1 221.6,82.0 222.1,82.2 222.7,82.1 223.2,83.3 223.8,84.1 224.3,83.8 224.9,83.7 225.4,83.3 226.0,82.4 226.5,82.2 227.1,82.8 227.6,83.8 228.2,84.2 228.7,85.1 229.3,86.0 229.8,85.7 230.4,84.8 230.9,83.7 231.5,82.5 232.0,81.2 232.6,82.2 233.1,82.4 233.7,81.3 234.2,81.8 234.8,82.8 235.3,83.3 235.9,83.9 236.4,83.9 237.0,83.3 237.5,83.1 238.1,83.5 238.6,83.6 239.2,83.3 239.7,83.0 240.3,82.1 240.8,82.5 241.4,84.5 241.9,84.6 242.5,84.6 243.0,85.1 243.6,84.4 244.1,84.0 244.7,85.1 245.2,85.5 245.8,85.7 246.3,84.6 246.9,84.4 247.4,82.9 248.0,81.5 248.5,81.2 249.1,81.2 249.6,81.7 250.2,82.9 250.7,82.5 251.3,83.4 251.8,83.2 252.4,82.4 252.9,81.7 253.5,81.5 254.0,81.2 254.6,82.1 255.1,83.0 255.7,83.2 256.2,83.6 256.8,84.2 257.3,83.8 257.9,83.1 258.4,82.7 259.0,82.3 259.5,82.5 260.1,83.5 260.6,84.2 261.2,84.4 261.7,84.9 262.3,85.4 262.8,84.6 263.4,84.9 263.9,84.5 264.5,85.1 265.0,85.5 265.6,85.2 266.1,86.1 266.7,85.9 267.2,84.8 267.8,84.8 268.3,84.6 268.9,85.7 269.4,85.3 270.0,86.3 270.5,85.7 271.1,85.7 271.6,86.3 272.2,85.5 272.7,85.6 273.3,86.5 273.8,86.3 274.4,86.7 274.9,87.4 275.5,87.3 276.0,86.4 276.6,86.7 277.1,87.0 277.7,87.2 278.2,85.7 278.8,86.8 279.3,87.0 279.9,86.5 280.4,86.7 281.0,87.7 281.5,87.0 282.1,87.4 282.6,88.3 283.2,87.5 283.7,86.9 284.3,86.7 284.8,86.6 285.4,87.6 285.9,88.5 286.5,88.6 287.0,89.5 287.6,90.8 288.1,90.0 288.7,90.2 289.2,89.3 289.8,90.5 290.3,90.2 290.9,89.6 291.4,89.0 292.0,89.7 292.5,90.5 293.1,90.1 293.6,90.1 294.2,89.7 294.7,88.6 295.3,88.5 295.8,88.4 296.4,87.6 296.9,87.7 297.5,86.4 298.0,87.3 298.6,87.2 299.1,86.2 299.7,86.3 300.2,85.5 300.8,85.7 301.3,86.4 301.9,86.7 302.4,87.5 303.0,87.1 303.5,86.1 304.1,86.3 304.6,86.7 305.2,87.5 305.7,86.5 306.3,88.6 306.8,89.1 307.4,90.5 307.9,89.9 308.5,90.1 309.0,91.0 309.6,92.1 310.1,92.3 310.7,91.5 311.2,93.0 311.8,92.0 312.3,92.5 312.9,93.0 313.4,92.3 314.0,92.8 314.5,92.8 315.1,92.4 315.6,93.0 316.2,93.1 316.7,92.5 317.3,92.5 317.8,91.7 318.4,90.5 318.9,90.3 319.5,91.3 320.0,91.8 320.6,92.1 321.1,91.7 321.7,90.1 322.2,90.0 322.8,91.2 323.3,91.9 323.9,91.7 324.4,90.3 325.0,91.3 325.5,90.4 326.1,92.5 326.6,92.3 327.2,91.9 327.7,91.4 328.3,91.9 328.8,91.2 329.4,91.1 329.9,90.5 330.5,89.9 331.0,90.2 331.6,90.9 332.1,90.5 332.7,91.2 333.2,91.1 333.8,90.3 334.3,91.2 334.9,91.6 335.4,90.2 336.0,90.5 336.5,90.3 337.1,90.4 337.6,91.9 338.2,91.9 338.7,92.1 339.3,92.2 339.8,91.8 340.4,91.5 340.9,91.5 341.5,90.2 342.0,90.9 342.6,90.1 343.1,90.4 343.7,90.5 344.2,90.7 344.8,90.6 345.3,91.6 345.9,92.3 346.4,92.0 347.0,93.3 347.5,93.3 348.1,95.3 348.6,95.4 349.2,94.9 349.7,94.3 350.3,94.4 350.8,94.5 351.4,94.6 351.9,94.7 352.5,94.3 353.0,94.3 353.6,94.9 354.1,93.7 354.7,94.1 355.2,93.8" fill="none" stroke="#00bfbf" stroke-width="1.5" stroke-linejoin="round" stroke-dasharray="4.4 4.05"/>
<polyline points="39.0,161.6 39.5,160.8 40.1,159.7 40.6,159.1 41.2,156.4 41.7,157.8 42.3,157.7 42.8,156.1 43.4,154.5 43.9,154.2 44.5,151.9 45.0,150.5 45.6,150.0 46.1,151.6 46.7,152.2 47.2,151.0 47.8,152.1 48.3,151.5 48.9,150.0 49.4,150.9 50.0,150.0 50.5,150.4 51.1,146.7 51.6,148.3 52.2,148.2 52.7,150.6 53.3,149.8 53.8,149.7 54.4,149.4 54.9,146.2 55.5,145.2 56.0,145.4 56.6,142.9 57.1,140.2 57.7,142.4 58.2,138.8 58.8,137.7 59.3,135.0 59.9,133.4 60.4,133.1 61.0,135.0 61.5,134.4 62.1,133.4 62.6,132.3 63.2,130.7 63.7,128.9 64.3,130.2 64.8,128.4 65.4,128.7 65.9,127.6 66.5,125.8 67.0,124.7 67.6,122.5 68.1,120.8 68.7,117.5 69.2,116.5 69.8,114.6 70.3,112.0 70.9,112.8 71.4,112.9 72.0,111.9 72.5,112.0 73.1,109.8 73.6,107.8 74.2,106.8 74.7,105.4 75.3,104.0 75.8,104.0 76.4,102.7 76.9,103.0 77.5,104.8 78.0,105.9 78.6,107.0 79.1,106.4 79.7,104.0 80.2,103.3 80.8,104.5 81.3,105.2 81.9,103.8 82.4,102.8 83.0,101.3 83.5,100.9 84.1,100.5 84.6,99.3 85.2,99.0 85.7,97.6 86.3,96.4 86.8,95.0 87.4,96.1 87.9,95.7 88.5,95.7 89.0,94.6 89.6,95.1 90.1,94.6 90.7,95.0 91.2,95.1 91.8,94.4 92.3,94.0 92.9,92.9 93.4,93.2 94.0,93.1 94.5,92.0 95.1,92.3 95.6,92.7 96.2,91.6 96.7,91.1 97.3,91.4 97.8,93.3 98.4,95.5 98.9,96.5 99.5,97.1 100.0,95.9 100.6,95.5 101.1,94.5 101.7,93.7 102.2,93.5 102.8,92.1 103.3,91.9 103.9,90.9 104.4,90.2 105.0,90.3 105.5,89.9 106.1,90.2 106.6,90.3 107.2,91.0 107.7,92.2 108.3,92.1 108.8,92.3 109.4,91.8 109.9,91.2 110.5,90.4 111.0,89.6 111.6,89.6 112.1,88.9 112.7,90.6 113.2,90.5 113.8,90.7 114.3,91.6 114.9,90.3 115.4,90.1 116.0,90.5 116.5,90.4 117.1,90.5 117.6,89.9 118.2,89.3 118.7,88.3 119.3,88.0 119.8,88.4 120.4,89.9 120.9,90.7 121.5,89.6 122.0,89.7 122.6,88.9 123.1,87.6 123.7,87.2 124.2,88.7 124.8,88.9 125.3,89.5 125.9,88.8 126.4,88.4 127.0,87.4 127.5,87.1 128.1,86.7 128.6,86.9 129.2,86.9 129.7,86.5 130.3,86.7 130.8,85.4 131.4,84.7 131.9,84.2 132.5,85.0 133.0,84.6 133.6,85.3 134.1,84.4 134.7,85.4 135.2,86.0 135.8,86.2 136.3,87.1 136.9,89.0 137.4,89.7 138.0,90.0 138.5,88.9 139.1,89.4 139.6,89.6 140.2,89.6 140.7,90.2 141.3,89.0 141.8,87.9 142.4,88.2 142.9,87.4 143.5,88.3 144.0,87.6 144.6,87.6 145.1,88.2 145.7,88.0 146.2,88.3 146.8,88.7 147.3,88.8 147.9,88.3 148.4,88.4 149.0,88.6 149.5,89.8 150.1,89.0 150.6,89.9 151.2,88.5 151.7,89.0 152.3,89.2 152.8,88.0 153.4,89.5 153.9,88.4 154.5,88.0 155.0,87.6 155.6,86.1 156.1,86.4 156.7,85.9 157.2,84.2 157.8,84.6 158.3,84.7 158.9,85.6 159.4,85.9 160.0,86.8 160.5,87.8 161.1,87.2 161.6,88.3 162.2,87.6 162.7,88.1 163.3,87.8 163.8,86.2 164.4,85.7 164.9,86.1 165.5,87.2 166.0,86.6 166.6,87.1 167.1,86.1 167.7,85.9 168.2,86.0 168.8,86.6 169.3,86.2 169.9,86.2 170.4,86.5 171.0,85.7 171.5,85.3 172.1,84.1 172.6,83.4 173.2,84.0 173.7,83.6 174.3,84.5 174.8,84.8 175.4,84.5 175.9,83.3 176.5,84.0 177.0,86.7 177.6,86.4 178.1,86.9 178.7,86.7 179.2,85.8 179.8,85.7 180.3,86.1 180.9,85.1 181.4,85.8 182.0,85.0 182.5,84.8 183.1,85.0 183.6,85.1 184.2,85.2 184.7,85.3 185.3,84.9 185.8,85.6 186.4,85.2 186.9,84.6 187.5,85.1 188.0,84.9 188.6,83.8 189.1,84.0 189.7,84.8 190.2,86.1 190.8,86.0 191.3,85.1 191.9,84.7 192.4,84.1 193.0,83.5 193.5,84.3 194.1,85.5 194.6,86.5 195.2,86.4 195.7,86.1 196.3,85.6 196.8,85.5 197.4,86.0 197.9,85.8 198.5,86.8 199.0,87.0 199.6,86.7 200.1,87.1 200.7,86.4 201.2,85.6 201.8,85.8 202.3,85.5 202.9,86.7 203.4,85.4 204.0,85.8 204.5,86.3 205.1,85.7 205.6,86.3 206.2,86.5 206.7,85.9 207.3,87.1 207.8,86.1 208.4,85.4 208.9,85.9 209.5,86.6 210.0,86.9 210.6,86.5 211.1,87.0 211.7,86.5 212.2,86.6 212.8,86.7 213.3,85.9 213.9,85.8 214.4,86.0 215.0,87.7 215.5,86.6 216.1,86.6 216.6,85.5 217.2,85.3 217.7,86.0 218.3,85.8 218.8,85.6 219.4,85.4 219.9,85.5 220.5,86.0 221.0,86.1 221.6,84.9 222.1,85.4 222.7,85.4 223.2,83.7 223.8,83.4 224.3,83.5 224.9,84.1 225.4,84.1 226.0,84.8 226.5,85.3 227.1,84.3 227.6,83.1 228.2,82.6 228.7,82.5 229.3,81.9 229.8,83.3 230.4,84.8 230.9,84.5 231.5,85.8 232.0,85.1 232.6,84.8 233.1,84.3 233.7,83.4 234.2,83.9 234.8,83.3 235.3,83.4 235.9,84.6 236.4,84.9 237.0,86.1 237.5,86.5 238.1,87.3 238.6,87.0 239.2,87.2 239.7,87.2 240.3,86.7 240.8,85.4 241.4,85.2 241.9,85.1 242.5,86.9 243.0,87.0 243.6,86.1 244.1,85.9 244.7,84.8 245.2,85.8 245.8,86.5 246.3,87.3 246.9,88.2 247.4,86.6 248.0,86.2 248.5,86.3 249.1,87.0 249.6,87.5 250.2,87.6 250.7,86.9 251.3,86.0 251.8,85.8 252.4,87.6 252.9,88.0 253.5,87.8 254.0,87.1 254.6,86.9 255.1,85.7 255.7,86.1 256.2,85.6 256.8,86.5 257.3,87.7 257.9,87.4 258.4,87.8 259.0,87.6 259.5,86.8 260.1,87.4 260.6,87.6 261.2,87.2 261.7,86.0 262.3,85.9 262.8,87.4 263.4,86.2 263.9,85.5 264.5,84.7 265.0,85.9 265.6,85.3 266.1,86.6 266.7,87.4 267.2,88.1 267.8,87.5 268.3,87.7 268.9,87.4 269.4,88.5 270.0,87.6 270.5,88.1 271.1,88.4 271.6,88.6 272.2,88.3 272.7,87.3 273.3,87.0 273.8,85.7 274.4,86.1 274.9,85.7 275.5,86.3 276.0,87.3 276.6,87.6 277.1,86.8 277.7,86.6 278.2,86.1 278.8,86.6 279.3,87.1 279.9,88.3 280.4,89.5 281.0,89.6 281.5,89.2 282.1,89.6 282.6,89.5 283.2,89.9 283.7,91.5 284.3,91.6 284.8,90.9 285.4,90.1 285.9,89.6 286.5,91.5 287.0,92.9 287.6,93.3 288.1,94.0 288.7,92.6 289.2,92.6 289.8,92.0 290.3,91.7 290.9,91.3 291.4,92.5 292.0,93.2 292.5,93.5 293.1,93.0 293.6,92.9 294.2,92.1 294.7,92.0 295.3,92.0 295.8,91.8 296.4,91.5 296.9,91.0 297.5,91.8 298.0,91.0 298.6,92.3 299.1,93.2 299.7,92.5 300.2,93.5 300.8,93.0 301.3,93.9 301.9,93.6 302.4,93.2 303.0,93.0 303.5,93.3 304.1,90.8 304.6,91.5 305.2,91.8 305.7,92.3 306.3,91.7 306.8,91.1 307.4,90.5 307.9,90.8 308.5,91.8 309.0,93.4 309.6,92.8 310.1,94.2 310.7,93.2 311.2,92.9 311.8,93.6 312.3,93.1 312.9,92.1 313.4,91.9 314.0,92.9 314.5,92.5 315.1,93.6 315.6,93.3 316.2,92.5 316.7,93.8 317.3,93.7 317.8,93.5 318.4,92.8 318.9,92.6 319.5,92.5 320.0,92.3 320.6,93.2 321.1,92.9 321.7,93.0 322.2,92.9 322.8,93.2 323.3,92.0 323.9,91.8 324.4,92.4 325.0,91.9 325.5,92.4 326.1,93.6 326.6,93.4 327.2,94.3 327.7,94.5 328.3,94.0 328.8,93.4 329.4,94.1 329.9,92.8 330.5,92.1 331.0,92.7 331.6,92.3 332.1,92.5 332.7,92.5 333.2,92.5 333.8,93.4 334.3,94.1 334.9,93.8 335.4,95.1 336.0,95.5 336.5,95.1 337.1,95.8 337.6,96.2 338.2,96.8 338.7,97.5 339.3,96.6 339.8,96.6 340.4,98.3 340.9,96.9 341.5,97.5 342.0,97.6 342.6,96.5 343.1,97.1 343.7,96.6 344.2,96.5 344.8,96.4 345.3,96.2 345.9,96.2 346.4,96.0 347.0,94.3 347.5,94.1 348.1,94.6 348.6,94.2 349.2,95.0 349.7,95.6 350.3,96.7 350.8,96.2 351.4,95.9 351.9,95.5 352.5,93.6 353.0,94.2 353.6,94.6 354.1,95.0 354.7,96.2 355.2,96.1" fill="none" stroke="#0000ff" stroke-width="1.5" stroke-linejoin="round" stroke-dasharray="4.4 4.05"/>
<polyline points="39.0,206.1 39.5,203.2 40.1,198.3 40.6,194.7 41.2,192.7 41.7,188.4 42.3,184.9 42.8,180.7 43.4,181.5 43.9,174.4 44.5,172.3 45.0,170.4 45.6,166.4 46.1,160.3 46.7,156.8 47.2,153.3 47.8,149.0 48.3,145.5 48.9,143.2 49.4,143.5 50.0,141.1 50.5,140.7 51.1,137.9 51.6,137.4 52.2,137.0 52.7,134.0 53.3,134.8 53.8,131.3 54.4,130.3 54.9,130.5 55.5,128.5 56.0,126.1 56.6,125.7 57.1,125.6 57.7,124.3 58.2,123.2 58.8,123.1 59.3,123.2 59.9,122.7 60.4,120.9 61.0,119.2 61.5,118.3 62.1,114.9 62.6,111.9 63.2,108.5 63.7,105.5 64.3,105.0 64.8,107.4 65.4,106.8 65.9,107.9 66.5,108.1 67.0,108.8 67.6,107.9 68.1,107.1 68.7,106.7 69.2,105.4 69.8,105.7 70.3,105.5 70.9,103.9 71.4,103.9 72.0,102.7 72.5,101.8 73.1,99.6 73.6,95.3 74.2,94.3 74.7,93.2 75.3,91.4 75.8,90.3 76.4,89.3 76.9,89.0 77.5,87.1 78.0,85.7 78.6,86.0 79.1,86.1 79.7,86.5 80.2,88.0 80.8,89.0 81.3,90.3 81.9,90.8 82.4,92.0 83.0,92.3 83.5,93.2 84.1,93.1 84.6,90.9 85.2,89.8 85.7,89.4 86.3,89.4 86.8,89.2 87.4,89.1 87.9,88.7 88.5,88.5 89.0,88.2 89.6,89.0 90.1,89.7 90.7,88.6 91.2,88.6 91.8,87.3 92.3,87.4 92.9,87.3 93.4,87.3 94.0,88.4 94.5,89.1 95.1,88.5 95.6,87.3 96.2,86.2 96.7,86.7 97.3,86.6 97.8,88.0 98.4,89.9 98.9,91.2 99.5,91.2 100.0,90.5 100.6,91.2 101.1,90.3 101.7,89.5 102.2,89.4 102.8,87.9 103.3,88.8 103.9,89.0 104.4,88.8 105.0,87.8 105.5,86.5 106.1,85.9 106.6,85.6 107.2,86.4 107.7,86.5 108.3,86.9 108.8,85.4 109.4,85.9 109.9,85.9 110.5,85.2 111.0,86.3 111.6,86.8 112.1,87.6 112.7,88.6 113.2,89.3 113.8,89.0 114.3,89.5 114.9,89.5 115.4,90.1 116.0,90.0 116.5,89.3 117.1,88.7 117.6,90.2 118.2,89.5 118.7,90.6 119.3,91.9 119.8,92.1 120.4,89.8 120.9,89.2 121.5,88.1 122.0,88.9 122.6,88.3 123.1,89.7 123.7,91.0 124.2,91.0 124.8,90.4 125.3,91.1 125.9,89.3 126.4,88.8 127.0,90.3 127.5,91.5 128.1,91.0 128.6,90.5 129.2,89.8 129.7,88.7 130.3,88.4 130.8,89.4 131.4,89.5 131.9,89.7 132.5,89.5 133.0,90.1 133.6,89.8 134.1,89.7 134.7,89.9 135.2,90.7 135.8,92.8 136.3,93.1 136.9,92.3 137.4,92.1 138.0,91.1 138.5,91.4 139.1,91.8 139.6,91.5 140.2,92.7 140.7,92.0 141.3,91.4 141.8,91.2 142.4,90.7 142.9,89.6 143.5,89.8 144.0,90.1 144.6,90.0 145.1,89.7 145.7,90.3 146.2,90.0 146.8,90.3 147.3,90.9 147.9,90.9 148.4,89.6 149.0,89.7 149.5,89.1 150.1,88.3 150.6,88.0 151.2,87.4 151.7,87.9 152.3,87.4 152.8,88.0 153.4,86.3 153.9,87.3 154.5,87.9 155.0,88.4 155.6,87.9 156.1,87.5 156.7,88.1 157.2,88.3 157.8,89.0 158.3,89.6 158.9,90.1 159.4,89.0 160.0,89.5 160.5,89.9 161.1,89.9 161.6,90.5 162.2,91.9 162.7,92.5 163.3,92.8 163.8,92.5 164.4,91.3 164.9,91.5 165.5,91.2 166.0,91.1 166.6,90.9 167.1,89.4 167.7,88.9 168.2,88.4 168.8,89.0 169.3,88.9 169.9,89.0 170.4,90.1 171.0,90.6 171.5,91.4 172.1,91.1 172.6,90.5 173.2,89.5 173.7,87.9 174.3,87.7 174.8,87.3 175.4,88.9 175.9,89.1 176.5,88.8 177.0,88.7 177.6,89.0 178.1,87.5 178.7,87.1 179.2,86.2 179.8,86.0 180.3,86.1 180.9,87.5 181.4,87.0 182.0,87.0 182.5,85.8 183.1,84.3 183.6,84.0 184.2,84.1 184.7,84.8 185.3,85.7 185.8,85.7 186.4,86.2 186.9,86.2 187.5,87.8 188.0,86.3 188.6,87.1 189.1,87.6 189.7,87.0 190.2,86.4 190.8,86.6 191.3,85.5 191.9,87.1 192.4,87.1 193.0,88.0 193.5,87.7 194.1,87.1 194.6,86.8 195.2,85.9 195.7,85.8 196.3,85.2 196.8,83.1 197.4,83.0 197.9,82.5 198.5,82.9 199.0,83.7 199.6,82.8 200.1,83.3 200.7,83.0 201.2,83.3 201.8,83.8 202.3,84.2 202.9,84.5 203.4,84.0 204.0,83.8 204.5,83.4 205.1,84.3 205.6,84.0 206.2,83.7 206.7,83.2 207.3,83.1 207.8,84.0 208.4,84.7 208.9,85.4 209.5,85.2 210.0,84.5 210.6,84.4 211.1,84.6 211.7,86.3 212.2,85.6 212.8,85.1 213.3,84.4 213.9,84.4 214.4,85.2 215.0,87.0 215.5,87.2 216.1,86.1 216.6,85.6 217.2,85.6 217.7,86.0 218.3,86.3 218.8,87.5 219.4,86.8 219.9,87.5 220.5,87.7 221.0,87.8 221.6,88.9 222.1,89.8 222.7,90.2 223.2,90.8 223.8,90.2 224.3,90.3 224.9,89.7 225.4,88.8 226.0,88.1 226.5,89.0 227.1,88.9 227.6,88.3 228.2,88.6 228.7,88.9 229.3,88.7 229.8,88.6 230.4,87.6 230.9,86.4 231.5,85.3 232.0,85.7 232.6,87.2 233.1,87.3 233.7,86.8 234.2,86.9 234.8,88.0 235.3,87.8 235.9,88.7 236.4,89.7 237.0,90.3 237.5,91.0 238.1,90.8 238.6,91.3 239.2,91.1 239.7,92.1 240.3,92.2 240.8,92.7 241.4,91.1 241.9,91.3 242.5,90.7 243.0,91.6 243.6,91.7 244.1,92.7 244.7,92.1 245.2,90.5 245.8,90.0 246.3,90.2 246.9,90.2 247.4,91.2 248.0,90.1 248.5,90.8 249.1,91.1 249.6,90.8 250.2,91.4 250.7,90.7 251.3,90.1 251.8,91.9 252.4,91.1 252.9,89.5 253.5,89.5 254.0,89.8 254.6,90.8 255.1,92.0 255.7,91.9 256.2,91.1 256.8,90.0 257.3,89.3 257.9,88.5 258.4,88.7 259.0,87.6 259.5,88.1 260.1,89.2 260.6,90.2 261.2,90.5 261.7,90.0 262.3,90.5 262.8,91.4 263.4,91.4 263.9,92.2 264.5,93.3 265.0,92.8 265.6,94.2 266.1,93.9 266.7,93.9 267.2,93.2 267.8,93.3 268.3,94.2 268.9,93.8 269.4,94.5 270.0,94.8 270.5,94.3 271.1,94.5 271.6,94.2 272.2,94.4 272.7,95.1 273.3,95.0 273.8,96.2 274.4,96.4 274.9,96.2 275.5,95.3 276.0,94.8 276.6,94.4 277.1,95.9 277.7,97.5 278.2,96.7 278.8,95.5 279.3,97.0 279.9,96.4 280.4,96.8 281.0,96.6 281.5,96.1 282.1,95.8 282.6,96.2 283.2,97.1 283.7,96.5 284.3,96.3 284.8,95.1 285.4,95.3 285.9,95.7 286.5,97.6 287.0,97.9 287.6,98.6 288.1,99.9 288.7,100.1 289.2,100.0 289.8,99.7 290.3,100.7 290.9,101.3 291.4,101.8 292.0,101.1 292.5,100.7 293.1,99.3 293.6,100.3 294.2,99.6 294.7,98.6 295.3,96.6 295.8,97.3 296.4,96.5 296.9,96.8 297.5,95.8 298.0,95.1 298.6,95.5 299.1,94.7 299.7,94.6 300.2,93.3 300.8,93.3 301.3,92.9 301.9,93.8 302.4,94.2 303.0,93.9 303.5,92.8 304.1,92.3 304.6,93.3 305.2,93.8 305.7,94.5 306.3,94.0 306.8,95.3 307.4,96.0 307.9,96.0 308.5,96.9 309.0,97.7 309.6,97.4 310.1,98.3 310.7,99.4 311.2,100.6 311.8,102.1 312.3,102.0 312.9,101.6 313.4,101.5 314.0,101.6 314.5,100.8 315.1,100.8 315.6,99.5 316.2,101.4 316.7,102.3 317.3,101.9 317.8,102.0 318.4,100.5 318.9,100.6 319.5,100.2 320.0,101.1 320.6,100.9 321.1,100.5 321.7,99.2 322.2,99.6 322.8,98.9 323.3,99.0 323.9,99.1 324.4,99.9 325.0,99.9 325.5,100.6 326.1,100.8 326.6,100.1 327.2,100.8 327.7,99.5 328.3,98.9 328.8,97.3 329.4,96.0 329.9,96.7 330.5,97.9 331.0,98.9 331.6,99.3 332.1,99.3 332.7,100.1 333.2,99.9 333.8,101.4 334.3,101.1 334.9,101.7 335.4,101.1 336.0,100.6 336.5,100.5 337.1,100.4 337.6,101.6 338.2,101.7 338.7,101.1 339.3,101.0 339.8,100.9 340.4,100.4 340.9,101.2 341.5,100.4 342.0,101.3 342.6,99.7 343.1,100.2 343.7,98.3 344.2,99.0 344.8,99.9 345.3,100.2 345.9,101.1 346.4,101.6 347.0,100.0 347.5,99.9 348.1,100.6 348.6,100.2 349.2,100.9 349.7,102.3 350.3,102.3 350.8,101.9 351.4,101.1 351.9,101.7 352.5,102.0 353.0,102.5 353.6,104.1 354.1,103.3 354.7,104.6 355.2,103.4" fill="none" stroke="#ff0000" stroke-width="1.5" stroke-linejoin="round"/>
<polyline points="39.0,200.5 39.5,193.3 40.1,185.3 40.6,181.7 41.2,176.4 41.7,173.7 42.3,167.5 42.8,165.5 43.4,158.4 43.9,158.8 44.5,160.5 45.0,161.4 45.6,161.4 46.1,162.5 46.7,160.2 47.2,161.3 47.8,156.8 48.3,153.9 48.9,150.0 49.4,148.8 50.0,147.2 50.5,145.1 51.1,142.3 51.6,144.2 52.2,143.2 52.7,141.6 53.3,138.3 53.8,138.1 54.4,136.1 54.9,136.2 55.5,136.5 56.0,137.5 56.6,135.9 57.1,136.3 57.7,133.7 58.2,131.8 58.8,131.3 59.3,130.4 59.9,130.8 60.4,130.7 61.0,131.2 61.5,130.1 62.1,131.2 62.6,128.0 63.2,122.6 63.7,119.8 64.3,116.7 64.8,115.1 65.4,113.4 65.9,112.6 66.5,111.1 67.0,109.9 67.6,107.3 68.1,104.9 68.7,102.8 69.2,100.8 69.8,100.5 70.3,99.8 70.9,99.2 71.4,97.1 72.0,97.9 72.5,95.5 73.1,95.1 73.6,93.5 74.2,93.0 74.7,93.6 75.3,92.9 75.8,94.4 76.4,95.3 76.9,95.3 77.5,94.6 78.0,93.9 78.6,93.2 79.1,92.8 79.7,93.9 80.2,92.9 80.8,93.9 81.3,92.7 81.9,92.1 82.4,91.8 83.0,92.3 83.5,92.9 84.1,92.1 84.6,92.7 85.2,91.0 85.7,90.9 86.3,91.4 86.8,89.3 87.4,87.8 87.9,85.7 88.5,85.1 89.0,84.4 89.6,83.9 90.1,84.8 90.7,83.4 91.2,83.4 91.8,84.2 92.3,85.0 92.9,83.6 93.4,83.8 94.0,83.2 94.5,83.9 95.1,84.4 95.6,85.8 96.2,86.9 96.7,86.7 97.3,86.0 97.8,86.3 98.4,87.7 98.9,88.2 99.5,88.5 100.0,87.7 100.6,86.6 101.1,86.9 101.7,87.9 102.2,89.1 102.8,87.8 103.3,86.7 103.9,88.1 104.4,86.7 105.0,86.6 105.5,86.6 106.1,86.3 106.6,87.4 107.2,86.4 107.7,87.1 108.3,86.6 108.8,86.5 109.4,84.8 109.9,85.2 110.5,84.7 111.0,84.3 111.6,85.0 112.1,87.3 112.7,87.8 113.2,90.0 113.8,91.9 114.3,91.4 114.9,92.5 115.4,93.1 116.0,92.8 116.5,92.0 117.1,91.1 117.6,92.4 118.2,92.1 118.7,92.0 119.3,91.3 119.8,91.3 120.4,93.3 120.9,92.9 121.5,92.5 122.0,93.4 122.6,92.2 123.1,92.2 123.7,92.8 124.2,93.4 124.8,93.7 125.3,93.1 125.9,94.2 126.4,94.0 127.0,93.2 127.5,92.9 128.1,92.0 128.6,91.7 129.2,91.5 129.7,90.8 130.3,91.2 130.8,91.7 131.4,91.2 131.9,90.0 132.5,89.8 133.0,90.6 133.6,90.0 134.1,92.6 134.7,93.8 135.2,94.1 135.8,95.5 136.3,97.0 136.9,97.2 137.4,97.7 138.0,97.9 138.5,96.2 139.1,95.8 139.6,95.3 140.2,94.9 140.7,95.0 141.3,95.8 141.8,94.6 142.4,95.2 142.9,94.9 143.5,94.8 144.0,95.3 144.6,96.1 145.1,96.7 145.7,96.1 146.2,96.5 146.8,96.2 147.3,94.8 147.9,94.9 148.4,95.3 149.0,95.3 149.5,94.6 150.1,95.5 150.6,94.7 151.2,95.3 151.7,95.5 152.3,94.9 152.8,95.7 153.4,96.6 153.9,96.4 154.5,94.8 155.0,93.9 155.6,93.5 156.1,92.1 156.7,93.6 157.2,93.6 157.8,93.7 158.3,93.7 158.9,93.2 159.4,93.7 160.0,93.4 160.5,94.1 161.1,94.3 161.6,94.7 162.2,94.9 162.7,93.6 163.3,94.3 163.8,94.3 164.4,95.2 164.9,95.9 165.5,97.3 166.0,97.2 166.6,96.0 167.1,95.1 167.7,94.9 168.2,94.4 168.8,94.8 169.3,94.1 169.9,94.9 170.4,93.6 171.0,91.9 171.5,92.8 172.1,92.1 172.6,92.8 173.2,92.8 173.7,93.9 174.3,92.7 174.8,92.9 175.4,93.9 175.9,93.6 176.5,93.2 177.0,92.1 177.6,93.1 178.1,93.7 178.7,92.1 179.2,91.7 179.8,90.6 180.3,90.5 180.9,90.6 181.4,90.2 182.0,90.3 182.5,90.6 183.1,88.7 183.6,88.8 184.2,90.0 184.7,90.8 185.3,90.4 185.8,91.9 186.4,91.1 186.9,90.5 187.5,91.7 188.0,91.1 188.6,92.0 189.1,93.1 189.7,92.7 190.2,91.8 190.8,91.3 191.3,90.4 191.9,90.7 192.4,91.7 193.0,91.6 193.5,92.9 194.1,92.3 194.6,91.6 195.2,90.8 195.7,90.5 196.3,90.8 196.8,92.3 197.4,93.5 197.9,95.2 198.5,95.9 199.0,96.4 199.6,97.0 200.1,97.5 200.7,96.6 201.2,95.6 201.8,94.6 202.3,94.5 202.9,94.5 203.4,94.7 204.0,94.3 204.5,92.1 205.1,91.6 205.6,91.3 206.2,91.2 206.7,91.6 207.3,92.5 207.8,92.0 208.4,91.1 208.9,90.1 209.5,91.2 210.0,92.7 210.6,93.0 211.1,94.5 211.7,94.9 212.2,94.3 212.8,92.5 213.3,91.3 213.9,90.3 214.4,89.9 215.0,90.0 215.5,91.8 216.1,92.1 216.6,92.7 217.2,93.6 217.7,93.5 218.3,93.1 218.8,93.8 219.4,94.2 219.9,93.3 220.5,93.1 221.0,92.8 221.6,93.5 222.1,94.0 222.7,92.9 223.2,92.8 223.8,93.0 224.3,90.9 224.9,91.4 225.4,91.6 226.0,89.6 226.5,91.1 227.1,90.0 227.6,89.3 228.2,89.9 228.7,90.4 229.3,90.9 229.8,91.7 230.4,91.6 230.9,91.1 231.5,92.3 232.0,92.4 232.6,92.5 233.1,91.4 233.7,91.3 234.2,91.4 234.8,90.7 235.3,91.4 235.9,93.1 236.4,92.5 237.0,93.6 237.5,93.2 238.1,94.1 238.6,96.2 239.2,96.4 239.7,96.1 240.3,97.3 240.8,95.5 241.4,95.6 241.9,95.2 242.5,94.7 243.0,94.5 243.6,95.3 244.1,95.5 244.7,96.6 245.2,97.3 245.8,97.3 246.3,96.7 246.9,95.6 247.4,95.9 248.0,96.6 248.5,96.7 249.1,96.6 249.6,96.3 250.2,96.0 250.7,96.2 251.3,96.3 251.8,95.3 252.4,96.1 252.9,96.7 253.5,96.9 254.0,97.2 254.6,97.4 255.1,97.4 255.7,98.6 256.2,97.7 256.8,98.3 257.3,97.7 257.9,97.1 258.4,96.6 259.0,95.0 259.5,96.6 260.1,96.6 260.6,96.4 261.2,95.6 261.7,95.4 262.3,95.3 262.8,97.0 263.4,96.7 263.9,97.3 264.5,97.0 265.0,96.6 265.6,95.5 266.1,96.1 266.7,96.1 267.2,96.3 267.8,96.7 268.3,96.5 268.9,95.8 269.4,97.1 270.0,97.0 270.5,96.6 271.1,96.3 271.6,96.7 272.2,96.7 272.7,97.9 273.3,98.1 273.8,98.3 274.4,97.3 274.9,98.1 275.5,98.9 276.0,99.1 276.6,99.7 277.1,100.4 277.7,99.7 278.2,98.8 278.8,100.6 279.3,100.6 279.9,100.9 280.4,99.4 281.0,97.8 281.5,96.6 282.1,97.1 282.6,98.5 283.2,99.6 283.7,99.6 284.3,100.0 284.8,100.6 285.4,99.8 285.9,100.2 286.5,100.2 287.0,100.1 287.6,100.7 288.1,99.8 288.7,100.1 289.2,100.0 289.8,101.3 290.3,101.2 290.9,102.5 291.4,102.4 292.0,100.6 292.5,100.3 293.1,101.5 293.6,100.9 294.2,101.1 294.7,101.6 295.3,101.8 295.8,102.8 296.4,102.9 296.9,102.3 297.5,101.1 298.0,102.4 298.6,102.0 299.1,101.0 299.7,101.9 300.2,101.2 300.8,100.5 301.3,100.3 301.9,99.3 302.4,98.5 303.0,99.1 303.5,100.5 304.1,99.7 304.6,101.9 305.2,101.4 305.7,101.9 306.3,101.7 306.8,101.5 307.4,101.0 307.9,100.7 308.5,101.7 309.0,103.1 309.6,103.0 310.1,102.2 310.7,102.1 311.2,101.9 311.8,103.0 312.3,102.9 312.9,102.9 313.4,103.3 314.0,104.4 314.5,103.4 315.1,104.1 315.6,103.7 316.2,102.9 316.7,101.9 317.3,103.2 317.8,104.2 318.4,104.2 318.9,102.7 319.5,101.6 320.0,101.5 320.6,100.8 321.1,101.0 321.7,101.2 322.2,100.3 322.8,100.3 323.3,100.5 323.9,101.4 324.4,101.3 325.0,101.1 325.5,101.1 326.1,101.0 326.6,101.0 327.2,100.0 327.7,99.9 328.3,100.9 328.8,101.6 329.4,102.9 329.9,103.5 330.5,104.0 331.0,103.1 331.6,103.5 332.1,103.0 332.7,102.6 333.2,102.6 333.8,103.1 334.3,104.1 334.9,104.4 335.4,105.0 336.0,105.3 336.5,104.7 337.1,106.6 337.6,106.3 338.2,105.6 338.7,106.4 339.3,107.0 339.8,108.3 340.4,107.4 340.9,107.9 341.5,106.3 342.0,105.7 342.6,105.4 343.1,105.0 343.7,104.6 344.2,105.6 344.8,106.1 345.3,105.8 345.9,105.9 346.4,105.2 347.0,106.3 347.5,107.2 348.1,106.4 348.6,106.1 349.2,105.3 349.7,105.6 350.3,105.9 350.8,105.9 351.4,106.1 351.9,106.3 352.5,105.5 353.0,105.3 353.6,105.5 354.1,106.1 354.7,107.6 355.2,107.6" fill="none" stroke="#008000" stroke-width="1.5" stroke-linejoin="round"/>
</g>
<g stroke="#b8b8b8" stroke-width="1.1" stroke-dasharray="1.4 1.43" fill="none"><line x1="71.7" y1="2.0" x2="71.7" y2="249.5"/><line x1="126.3" y1="2.0" x2="126.3" y2="249.5"/><line x1="180.9" y1="2.0" x2="180.9" y2="249.5"/><line x1="235.4" y1="2.0" x2="235.4" y2="249.5"/><line x1="290.0" y1="2.0" x2="290.0" y2="249.5"/><line x1="344.6" y1="2.0" x2="344.6" y2="249.5"/><line x1="39.0" y1="212.0" x2="355.5" y2="212.0"/><line x1="39.0" y1="182.9" x2="355.5" y2="182.9"/><line x1="39.0" y1="159.1" x2="355.5" y2="159.1"/><line x1="39.0" y1="139.0" x2="355.5" y2="139.0"/><line x1="39.0" y1="121.5" x2="355.5" y2="121.5"/><line x1="39.0" y1="106.2" x2="355.5" y2="106.2"/><line x1="39.0" y1="92.4" x2="355.5" y2="92.4"/></g>
<g stroke="#555" stroke-width="0.6"><line x1="71.7" y1="249.5" x2="71.7" y2="246.3"/><line x1="71.7" y1="2.0" x2="71.7" y2="5.2"/><line x1="126.3" y1="249.5" x2="126.3" y2="246.3"/><line x1="126.3" y1="2.0" x2="126.3" y2="5.2"/><line x1="180.9" y1="249.5" x2="180.9" y2="246.3"/><line x1="180.9" y1="2.0" x2="180.9" y2="5.2"/><line x1="235.4" y1="249.5" x2="235.4" y2="246.3"/><line x1="235.4" y1="2.0" x2="235.4" y2="5.2"/><line x1="290.0" y1="249.5" x2="290.0" y2="246.3"/><line x1="290.0" y1="2.0" x2="290.0" y2="5.2"/><line x1="344.6" y1="249.5" x2="344.6" y2="246.3"/><line x1="344.6" y1="2.0" x2="344.6" y2="5.2"/><line x1="39.0" y1="212.0" x2="40.6" y2="212.0"/><line x1="355.5" y1="212.0" x2="353.9" y2="212.0"/><line x1="39.0" y1="182.9" x2="40.6" y2="182.9"/><line x1="355.5" y1="182.9" x2="353.9" y2="182.9"/><line x1="39.0" y1="159.1" x2="40.6" y2="159.1"/><line x1="355.5" y1="159.1" x2="353.9" y2="159.1"/><line x1="39.0" y1="139.0" x2="40.6" y2="139.0"/><line x1="355.5" y1="139.0" x2="353.9" y2="139.0"/><line x1="39.0" y1="121.5" x2="40.6" y2="121.5"/><line x1="355.5" y1="121.5" x2="353.9" y2="121.5"/><line x1="39.0" y1="106.2" x2="40.6" y2="106.2"/><line x1="355.5" y1="106.2" x2="353.9" y2="106.2"/><line x1="39.0" y1="92.4" x2="42.2" y2="92.4"/><line x1="355.5" y1="92.4" x2="352.3" y2="92.4"/></g>
<rect x="158.5" y="136.4" width="190.89999999999998" height="106.29999999999998" fill="#fff" stroke="#333" stroke-width="0.9"/><line x1="162.6" y1="151.4" x2="187.8" y2="151.4" stroke="#00bfbf" stroke-width="1.25" stroke-dasharray="4.4 4.05"/><text class="m" transform="translate(199.60,155.90) scale(1.2,1)" font-size="12.8">N</text><text class="mr" transform="translate(201.40,148.00) scale(0.95,1)" font-size="8.2">~</text><text class="m" transform="translate(209.30,159.60) scale(1.0,1)" font-size="8.8">ℓ</text><text class="m" transform="translate(212.50,148.40) scale(1.17,1)" font-size="9.2">EE</text><text class="s" x="231.6" y="155.9">single</text><text class="mr" transform="translate(271.70,155.90) scale(1.05,1)" font-size="13.6">1</text><text class="mr" transform="translate(277.80,158.30) scale(1.3,1)" font-size="18.0" fill-opacity="0.8">/</text><text class="m" transform="translate(283.50,155.90) scale(1.15,1)" font-size="14.0">f</text><text class="m" transform="translate(293.30,150.70) scale(1.1,1)" font-size="9.4">α</text><text class="s" x="305.2" y="155.9">comp.</text><line x1="162.6" y1="177.4" x2="187.8" y2="177.4" stroke="#0000ff" stroke-width="1.25" stroke-dasharray="4.4 4.05"/><text class="m" transform="translate(199.60,181.80) scale(1.2,1)" font-size="12.8">N</text><text class="mr" transform="translate(201.40,173.90) scale(0.95,1)" font-size="8.2">~</text><text class="m" transform="translate(209.30,185.50) scale(1.0,1)" font-size="8.8">ℓ</text><text class="m" transform="translate(212.50,174.30) scale(1.17,1)" font-size="9.2">BB</text><text class="s" x="231.6" y="181.8">single</text><text class="mr" transform="translate(271.70,181.80) scale(1.05,1)" font-size="13.6">1</text><text class="mr" transform="translate(277.80,184.20) scale(1.3,1)" font-size="18.0" fill-opacity="0.8">/</text><text class="m" transform="translate(283.50,181.80) scale(1.15,1)" font-size="14.0">f</text><text class="m" transform="translate(293.30,176.60) scale(1.1,1)" font-size="9.4">α</text><text class="s" x="305.2" y="181.8">comp.</text><line x1="162.6" y1="203.4" x2="188.8" y2="203.4" stroke="#ff0000" stroke-width="1.25"/><text class="m" transform="translate(199.60,207.70) scale(1.2,1)" font-size="12.8">N</text><text class="mr" transform="translate(201.40,199.80) scale(0.95,1)" font-size="8.2">~</text><text class="m" transform="translate(209.30,211.40) scale(1.0,1)" font-size="8.8">ℓ</text><text class="m" transform="translate(212.50,200.20) scale(1.17,1)" font-size="9.2">EE</text><text class="s" x="231.6" y="207.7">"signflip" coadd</text><line x1="162.6" y1="229.2" x2="188.8" y2="229.2" stroke="#008000" stroke-width="1.25"/><text class="m" transform="translate(199.60,233.60) scale(1.2,1)" font-size="12.8">N</text><text class="mr" transform="translate(201.40,225.70) scale(0.95,1)" font-size="8.2">~</text><text class="m" transform="translate(209.30,237.30) scale(1.0,1)" font-size="8.8">ℓ</text><text class="m" transform="translate(212.50,226.10) scale(1.17,1)" font-size="9.2">BB</text><text class="s" x="231.6" y="233.6">"signflip" coadd</text>
<rect x="39.0" y="2.0" width="316.5" height="247.5" fill="none" stroke="#3a3a3a" stroke-width="1.0"/>
<g class="t"><text x="71.2" y="259.0" text-anchor="middle">100</text><text x="125.8" y="259.0" text-anchor="middle">200</text><text x="180.4" y="259.0" text-anchor="middle">300</text><text x="234.9" y="259.0" text-anchor="middle">400</text><text x="289.5" y="259.0" text-anchor="middle">500</text><text x="344.1" y="259.0" text-anchor="middle">600</text>
<text x="21.6" y="96.1" style="font-size:8.4px;stroke-width:0.3px">10</text><text x="31.4" y="91.9" style="font-size:6.6px;stroke-width:0.3px">0</text>
</g>
<text class="m" x="194.1" y="273.0" font-size="14.6">ℓ</text>
<g transform="translate(10.6,175.6) rotate(-90)">
<text class="m" transform="translate(0.00,1.80) scale(1.2,1)" font-size="12.8">N</text><text class="mr" transform="translate(1.80,-5.20) scale(0.95,1)" font-size="8.2">~</text><text class="m" transform="translate(9.70,5.50) scale(1.0,1)" font-size="8.8">ℓ</text>
<text class="s" x="19.6" y="0" style="font-size:12.85px">(normalized)</text>
</g>
</svg>
</body></html>
